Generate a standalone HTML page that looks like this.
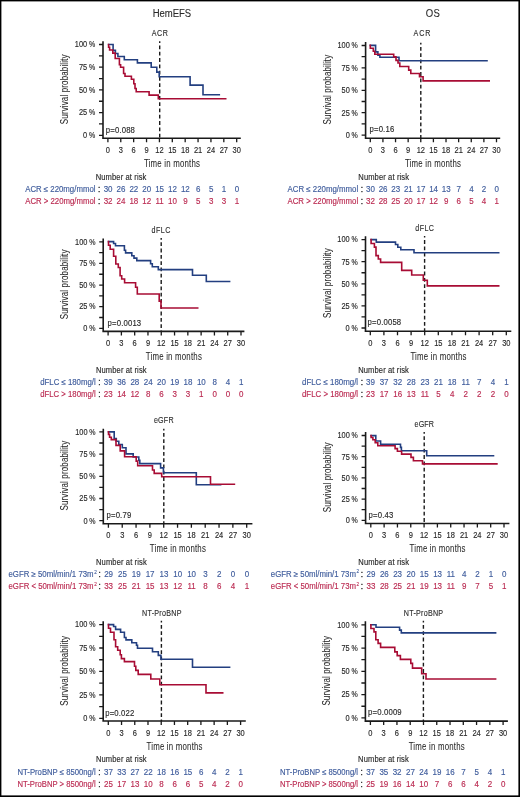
<!DOCTYPE html>
<html><head><meta charset="utf-8"><style>
html,body{margin:0;padding:0;background:#fff;}
body{width:520px;height:797px;overflow:hidden;}
svg{display:block;will-change:transform;}
</style></head><body>
<svg width="520" height="797" viewBox="0 0 520 797" font-family="Liberation Sans, sans-serif" style="font-family:'Liberation Sans',sans-serif">
<rect x="0" y="0" width="520" height="797" fill="#fff"/>
<text transform="translate(159.80,35.60) scale(0.85,1)" x="0" y="0" font-size="8.4" fill="#2a2a2a" stroke="#2a2a2a" stroke-width="0.12" text-anchor="middle" textLength="18.82" lengthAdjust="spacing" >ACR</text>
<path d="M103.00,41.20 V138.95 M102.15,138.20 H240.80" stroke="#1a1a1a" stroke-width="1.6" fill="none"/>
<path d="M99.00,44.50 H103.00 M99.00,55.85 H103.00 M99.00,67.20 H103.00 M99.00,78.55 H103.00 M99.00,89.90 H103.00 M99.00,101.25 H103.00 M99.00,112.60 H103.00 M99.00,123.95 H103.00 M99.00,135.30 H103.00 M107.90,138.20 V142.20 M120.78,138.20 V142.20 M133.66,138.20 V142.20 M146.54,138.20 V142.20 M159.42,138.20 V142.20 M172.30,138.20 V142.20 M185.18,138.20 V142.20 M198.06,138.20 V142.20 M210.94,138.20 V142.20 M223.82,138.20 V142.20 M236.70,138.20 V142.20" stroke="#1a1a1a" stroke-width="1.3" fill="none"/>
<text transform="translate(87.20,47.30) scale(0.88,1)" x="0" y="0" font-size="8.4" fill="#2a2a2a" stroke="#2a2a2a" stroke-width="0.15" text-anchor="end" >100</text>
<text transform="translate(89.00,47.30) scale(0.86,1)" x="0" y="0" font-size="8.2" fill="#2a2a2a" stroke="#2a2a2a" stroke-width="0.16" >%</text>
<text transform="translate(87.20,70.00) scale(0.88,1)" x="0" y="0" font-size="8.4" fill="#2a2a2a" stroke="#2a2a2a" stroke-width="0.15" text-anchor="end" >75</text>
<text transform="translate(89.00,70.00) scale(0.86,1)" x="0" y="0" font-size="8.2" fill="#2a2a2a" stroke="#2a2a2a" stroke-width="0.16" >%</text>
<text transform="translate(87.20,92.70) scale(0.88,1)" x="0" y="0" font-size="8.4" fill="#2a2a2a" stroke="#2a2a2a" stroke-width="0.15" text-anchor="end" >50</text>
<text transform="translate(89.00,92.70) scale(0.86,1)" x="0" y="0" font-size="8.2" fill="#2a2a2a" stroke="#2a2a2a" stroke-width="0.16" >%</text>
<text transform="translate(87.20,115.40) scale(0.88,1)" x="0" y="0" font-size="8.4" fill="#2a2a2a" stroke="#2a2a2a" stroke-width="0.15" text-anchor="end" >25</text>
<text transform="translate(89.00,115.40) scale(0.86,1)" x="0" y="0" font-size="8.2" fill="#2a2a2a" stroke="#2a2a2a" stroke-width="0.16" >%</text>
<text transform="translate(87.20,138.10) scale(0.88,1)" x="0" y="0" font-size="8.4" fill="#2a2a2a" stroke="#2a2a2a" stroke-width="0.15" text-anchor="end" >0</text>
<text transform="translate(89.00,138.10) scale(0.86,1)" x="0" y="0" font-size="8.2" fill="#2a2a2a" stroke="#2a2a2a" stroke-width="0.16" >%</text>
<text transform="translate(107.90,152.70) scale(0.87,1)" x="0" y="0" font-size="8.6" fill="#2a2a2a" stroke="#2a2a2a" stroke-width="0.15" text-anchor="middle" >0</text>
<text transform="translate(120.78,152.70) scale(0.87,1)" x="0" y="0" font-size="8.6" fill="#2a2a2a" stroke="#2a2a2a" stroke-width="0.15" text-anchor="middle" >3</text>
<text transform="translate(133.66,152.70) scale(0.87,1)" x="0" y="0" font-size="8.6" fill="#2a2a2a" stroke="#2a2a2a" stroke-width="0.15" text-anchor="middle" >6</text>
<text transform="translate(146.54,152.70) scale(0.87,1)" x="0" y="0" font-size="8.6" fill="#2a2a2a" stroke="#2a2a2a" stroke-width="0.15" text-anchor="middle" >9</text>
<text transform="translate(159.42,152.70) scale(0.87,1)" x="0" y="0" font-size="8.6" fill="#2a2a2a" stroke="#2a2a2a" stroke-width="0.15" text-anchor="middle" >12</text>
<text transform="translate(172.30,152.70) scale(0.87,1)" x="0" y="0" font-size="8.6" fill="#2a2a2a" stroke="#2a2a2a" stroke-width="0.15" text-anchor="middle" >15</text>
<text transform="translate(185.18,152.70) scale(0.87,1)" x="0" y="0" font-size="8.6" fill="#2a2a2a" stroke="#2a2a2a" stroke-width="0.15" text-anchor="middle" >18</text>
<text transform="translate(198.06,152.70) scale(0.87,1)" x="0" y="0" font-size="8.6" fill="#2a2a2a" stroke="#2a2a2a" stroke-width="0.15" text-anchor="middle" >21</text>
<text transform="translate(210.94,152.70) scale(0.87,1)" x="0" y="0" font-size="8.6" fill="#2a2a2a" stroke="#2a2a2a" stroke-width="0.15" text-anchor="middle" >24</text>
<text transform="translate(223.82,152.70) scale(0.87,1)" x="0" y="0" font-size="8.6" fill="#2a2a2a" stroke="#2a2a2a" stroke-width="0.15" text-anchor="middle" >27</text>
<text transform="translate(236.70,152.70) scale(0.87,1)" x="0" y="0" font-size="8.6" fill="#2a2a2a" stroke="#2a2a2a" stroke-width="0.15" text-anchor="middle" >30</text>
<text transform="translate(171.90,166.80) scale(0.74,1)" x="0" y="0" font-size="10.6" fill="#2a2a2a" stroke="#2a2a2a" stroke-width="0.06" text-anchor="middle" textLength="75.68" lengthAdjust="spacing" >Time in months</text>
<text x="0" y="0" font-size="10.8" fill="#2a2a2a" stroke="#2a2a2a" stroke-width="0.06" text-anchor="middle" textLength="94.19" lengthAdjust="spacing" transform="translate(68.00,89.30) rotate(-90) scale(0.74,1)">Survival probability</text>
<text transform="translate(105.80,132.50) scale(0.88,1)" x="0" y="0" font-size="8.8" fill="#2a2a2a" stroke="#2a2a2a" stroke-width="0.15" textLength="33.11" lengthAdjust="spacing" >p=0.088</text>
<path d="M159.70,41.30 V138.20" stroke="#1a1a1a" stroke-width="1.4" stroke-dasharray="3.8 2.5" stroke-dashoffset="2.1" fill="none"/>
<path d="M108.6,44.5 H113.1 V50.4 H115.4 V53.5 H117.9 V56.5 H124.3 V59.8 H137.4 V62.9 H151.2 V67.3 H156.8 V72.1 H159.2 V76.7 H190.1 V85.1 H203 V94.8 H219.3" stroke="#233f80" stroke-width="1.6" fill="none" stroke-linejoin="miter" stroke-linecap="square"/>
<path d="M108.6,44.5 V47.3 H109.6 V50 H112.8 V53.1 H115.2 V58.5 H119.4 V64.8 H120.6 V67.3 H123.6 V73.5 H125 V76.2 H131.4 V79.2 H133.8 V83.8 H135 V88.5 H136.2 V91.7 H149.1 V95.1 H158.3 V98.8 H225.7" stroke="#a80c34" stroke-width="1.6" fill="none" stroke-linejoin="miter" stroke-linecap="square"/>
<text transform="translate(95.70,179.50) scale(0.88,1)" x="0" y="0" font-size="8.6" fill="#2a2a2a" stroke="#2a2a2a" stroke-width="0.15" textLength="57.61" lengthAdjust="spacing" >Number at risk</text>
<text x="25.20" y="191.70" font-size="8.3" fill="#3f5c9c" stroke="#3f5c9c" stroke-width="0.15" textLength="70.30" lengthAdjust="spacingAndGlyphs" >ACR ≤ 220mg/mmol</text>
<text x="98.10" y="191.70" font-size="8.3" fill="#2a2a2a" stroke="#2a2a2a" stroke-width="0.3" >:</text>
<text x="108.10" y="191.70" font-size="8.4" fill="#3f5c9c" stroke="#3f5c9c" stroke-width="0.15" text-anchor="middle" textLength="8.88" lengthAdjust="spacingAndGlyphs" >30</text>
<text x="120.98" y="191.70" font-size="8.4" fill="#3f5c9c" stroke="#3f5c9c" stroke-width="0.15" text-anchor="middle" textLength="8.88" lengthAdjust="spacingAndGlyphs" >26</text>
<text x="133.86" y="191.70" font-size="8.4" fill="#3f5c9c" stroke="#3f5c9c" stroke-width="0.15" text-anchor="middle" textLength="8.88" lengthAdjust="spacingAndGlyphs" >22</text>
<text x="146.74" y="191.70" font-size="8.4" fill="#3f5c9c" stroke="#3f5c9c" stroke-width="0.15" text-anchor="middle" textLength="8.88" lengthAdjust="spacingAndGlyphs" >20</text>
<text x="159.62" y="191.70" font-size="8.4" fill="#3f5c9c" stroke="#3f5c9c" stroke-width="0.15" text-anchor="middle" textLength="8.88" lengthAdjust="spacingAndGlyphs" >15</text>
<text x="172.50" y="191.70" font-size="8.4" fill="#3f5c9c" stroke="#3f5c9c" stroke-width="0.15" text-anchor="middle" textLength="8.88" lengthAdjust="spacingAndGlyphs" >12</text>
<text x="185.38" y="191.70" font-size="8.4" fill="#3f5c9c" stroke="#3f5c9c" stroke-width="0.15" text-anchor="middle" textLength="8.88" lengthAdjust="spacingAndGlyphs" >12</text>
<text x="198.26" y="191.70" font-size="8.4" fill="#3f5c9c" stroke="#3f5c9c" stroke-width="0.15" text-anchor="middle" textLength="4.44" lengthAdjust="spacingAndGlyphs" >6</text>
<text x="211.14" y="191.70" font-size="8.4" fill="#3f5c9c" stroke="#3f5c9c" stroke-width="0.15" text-anchor="middle" textLength="4.44" lengthAdjust="spacingAndGlyphs" >5</text>
<text x="224.02" y="191.70" font-size="8.4" fill="#3f5c9c" stroke="#3f5c9c" stroke-width="0.15" text-anchor="middle" textLength="4.44" lengthAdjust="spacingAndGlyphs" >1</text>
<text x="236.90" y="191.70" font-size="8.4" fill="#3f5c9c" stroke="#3f5c9c" stroke-width="0.15" text-anchor="middle" textLength="4.44" lengthAdjust="spacingAndGlyphs" >0</text>
<text x="25.20" y="203.90" font-size="8.3" fill="#bb2b52" stroke="#bb2b52" stroke-width="0.15" textLength="70.30" lengthAdjust="spacingAndGlyphs" >ACR &gt; 220mg/mmol</text>
<text x="98.10" y="203.90" font-size="8.3" fill="#2a2a2a" stroke="#2a2a2a" stroke-width="0.3" >:</text>
<text x="108.10" y="203.90" font-size="8.4" fill="#bb2b52" stroke="#bb2b52" stroke-width="0.15" text-anchor="middle" textLength="8.88" lengthAdjust="spacingAndGlyphs" >32</text>
<text x="120.98" y="203.90" font-size="8.4" fill="#bb2b52" stroke="#bb2b52" stroke-width="0.15" text-anchor="middle" textLength="8.88" lengthAdjust="spacingAndGlyphs" >24</text>
<text x="133.86" y="203.90" font-size="8.4" fill="#bb2b52" stroke="#bb2b52" stroke-width="0.15" text-anchor="middle" textLength="8.88" lengthAdjust="spacingAndGlyphs" >18</text>
<text x="146.74" y="203.90" font-size="8.4" fill="#bb2b52" stroke="#bb2b52" stroke-width="0.15" text-anchor="middle" textLength="8.88" lengthAdjust="spacingAndGlyphs" >12</text>
<text x="159.62" y="203.90" font-size="8.4" fill="#bb2b52" stroke="#bb2b52" stroke-width="0.15" text-anchor="middle" textLength="8.28" lengthAdjust="spacingAndGlyphs" >11</text>
<text x="172.50" y="203.90" font-size="8.4" fill="#bb2b52" stroke="#bb2b52" stroke-width="0.15" text-anchor="middle" textLength="8.88" lengthAdjust="spacingAndGlyphs" >10</text>
<text x="185.38" y="203.90" font-size="8.4" fill="#bb2b52" stroke="#bb2b52" stroke-width="0.15" text-anchor="middle" textLength="4.44" lengthAdjust="spacingAndGlyphs" >9</text>
<text x="198.26" y="203.90" font-size="8.4" fill="#bb2b52" stroke="#bb2b52" stroke-width="0.15" text-anchor="middle" textLength="4.44" lengthAdjust="spacingAndGlyphs" >5</text>
<text x="211.14" y="203.90" font-size="8.4" fill="#bb2b52" stroke="#bb2b52" stroke-width="0.15" text-anchor="middle" textLength="4.44" lengthAdjust="spacingAndGlyphs" >3</text>
<text x="224.02" y="203.90" font-size="8.4" fill="#bb2b52" stroke="#bb2b52" stroke-width="0.15" text-anchor="middle" textLength="4.44" lengthAdjust="spacingAndGlyphs" >3</text>
<text x="236.90" y="203.90" font-size="8.4" fill="#bb2b52" stroke="#bb2b52" stroke-width="0.15" text-anchor="middle" textLength="4.44" lengthAdjust="spacingAndGlyphs" >1</text>
<text transform="translate(422.00,36.00) scale(0.85,1)" x="0" y="0" font-size="8.4" fill="#2a2a2a" stroke="#2a2a2a" stroke-width="0.12" text-anchor="middle" textLength="19.76" lengthAdjust="spacing" >ACR</text>
<path d="M365.60,42.10 V138.95 M364.75,138.20 H500.20" stroke="#1a1a1a" stroke-width="1.6" fill="none"/>
<path d="M361.60,45.50 H365.60 M361.60,56.70 H365.60 M361.60,67.90 H365.60 M361.60,79.10 H365.60 M361.60,90.30 H365.60 M361.60,101.50 H365.60 M361.60,112.70 H365.60 M361.60,123.90 H365.60 M361.60,135.10 H365.60 M370.30,138.20 V142.20 M382.92,138.20 V142.20 M395.54,138.20 V142.20 M408.16,138.20 V142.20 M420.78,138.20 V142.20 M433.40,138.20 V142.20 M446.02,138.20 V142.20 M458.64,138.20 V142.20 M471.26,138.20 V142.20 M483.88,138.20 V142.20 M496.50,138.20 V142.20" stroke="#1a1a1a" stroke-width="1.3" fill="none"/>
<text transform="translate(349.80,48.30) scale(0.88,1)" x="0" y="0" font-size="8.4" fill="#2a2a2a" stroke="#2a2a2a" stroke-width="0.15" text-anchor="end" >100</text>
<text transform="translate(351.60,48.30) scale(0.86,1)" x="0" y="0" font-size="8.2" fill="#2a2a2a" stroke="#2a2a2a" stroke-width="0.16" >%</text>
<text transform="translate(349.80,70.70) scale(0.88,1)" x="0" y="0" font-size="8.4" fill="#2a2a2a" stroke="#2a2a2a" stroke-width="0.15" text-anchor="end" >75</text>
<text transform="translate(351.60,70.70) scale(0.86,1)" x="0" y="0" font-size="8.2" fill="#2a2a2a" stroke="#2a2a2a" stroke-width="0.16" >%</text>
<text transform="translate(349.80,93.10) scale(0.88,1)" x="0" y="0" font-size="8.4" fill="#2a2a2a" stroke="#2a2a2a" stroke-width="0.15" text-anchor="end" >50</text>
<text transform="translate(351.60,93.10) scale(0.86,1)" x="0" y="0" font-size="8.2" fill="#2a2a2a" stroke="#2a2a2a" stroke-width="0.16" >%</text>
<text transform="translate(349.80,115.50) scale(0.88,1)" x="0" y="0" font-size="8.4" fill="#2a2a2a" stroke="#2a2a2a" stroke-width="0.15" text-anchor="end" >25</text>
<text transform="translate(351.60,115.50) scale(0.86,1)" x="0" y="0" font-size="8.2" fill="#2a2a2a" stroke="#2a2a2a" stroke-width="0.16" >%</text>
<text transform="translate(349.80,137.90) scale(0.88,1)" x="0" y="0" font-size="8.4" fill="#2a2a2a" stroke="#2a2a2a" stroke-width="0.15" text-anchor="end" >0</text>
<text transform="translate(351.60,137.90) scale(0.86,1)" x="0" y="0" font-size="8.2" fill="#2a2a2a" stroke="#2a2a2a" stroke-width="0.16" >%</text>
<text transform="translate(370.30,152.70) scale(0.87,1)" x="0" y="0" font-size="8.6" fill="#2a2a2a" stroke="#2a2a2a" stroke-width="0.15" text-anchor="middle" >0</text>
<text transform="translate(382.92,152.70) scale(0.87,1)" x="0" y="0" font-size="8.6" fill="#2a2a2a" stroke="#2a2a2a" stroke-width="0.15" text-anchor="middle" >3</text>
<text transform="translate(395.54,152.70) scale(0.87,1)" x="0" y="0" font-size="8.6" fill="#2a2a2a" stroke="#2a2a2a" stroke-width="0.15" text-anchor="middle" >6</text>
<text transform="translate(408.16,152.70) scale(0.87,1)" x="0" y="0" font-size="8.6" fill="#2a2a2a" stroke="#2a2a2a" stroke-width="0.15" text-anchor="middle" >9</text>
<text transform="translate(420.78,152.70) scale(0.87,1)" x="0" y="0" font-size="8.6" fill="#2a2a2a" stroke="#2a2a2a" stroke-width="0.15" text-anchor="middle" >12</text>
<text transform="translate(433.40,152.70) scale(0.87,1)" x="0" y="0" font-size="8.6" fill="#2a2a2a" stroke="#2a2a2a" stroke-width="0.15" text-anchor="middle" >15</text>
<text transform="translate(446.02,152.70) scale(0.87,1)" x="0" y="0" font-size="8.6" fill="#2a2a2a" stroke="#2a2a2a" stroke-width="0.15" text-anchor="middle" >18</text>
<text transform="translate(458.64,152.70) scale(0.87,1)" x="0" y="0" font-size="8.6" fill="#2a2a2a" stroke="#2a2a2a" stroke-width="0.15" text-anchor="middle" >21</text>
<text transform="translate(471.26,152.70) scale(0.87,1)" x="0" y="0" font-size="8.6" fill="#2a2a2a" stroke="#2a2a2a" stroke-width="0.15" text-anchor="middle" >24</text>
<text transform="translate(483.88,152.70) scale(0.87,1)" x="0" y="0" font-size="8.6" fill="#2a2a2a" stroke="#2a2a2a" stroke-width="0.15" text-anchor="middle" >27</text>
<text transform="translate(496.50,152.70) scale(0.87,1)" x="0" y="0" font-size="8.6" fill="#2a2a2a" stroke="#2a2a2a" stroke-width="0.15" text-anchor="middle" >30</text>
<text transform="translate(432.90,166.80) scale(0.74,1)" x="0" y="0" font-size="10.6" fill="#2a2a2a" stroke="#2a2a2a" stroke-width="0.06" text-anchor="middle" textLength="75.68" lengthAdjust="spacing" >Time in months</text>
<text x="0" y="0" font-size="10.8" fill="#2a2a2a" stroke="#2a2a2a" stroke-width="0.06" text-anchor="middle" textLength="94.19" lengthAdjust="spacing" transform="translate(330.60,89.70) rotate(-90) scale(0.74,1)">Survival probability</text>
<text transform="translate(369.50,132.30) scale(0.88,1)" x="0" y="0" font-size="8.8" fill="#2a2a2a" stroke="#2a2a2a" stroke-width="0.15" textLength="28.06" lengthAdjust="spacing" >p=0.16</text>
<path d="M420.80,42.70 V138.20" stroke="#1a1a1a" stroke-width="1.4" stroke-dasharray="3.8 2.5" stroke-dashoffset="2.1" fill="none"/>
<path d="M370.3,45.4 H375.6 V51.9 H377.9 V55.2 H379.9 V57.3 H399 V60.8 H487" stroke="#233f80" stroke-width="1.6" fill="none" stroke-linejoin="miter" stroke-linecap="square"/>
<path d="M370.3,45.4 V48.3 H373.3 V51.2 H374.8 V54.2 H393.7 V56.9 H396 V60.4 H398 V63 H399.8 V66.5 H408.7 V70.1 H410.8 V73.5 H419.5 V76.8 H423.1 V80.9 H489.2" stroke="#a80c34" stroke-width="1.6" fill="none" stroke-linejoin="miter" stroke-linecap="square"/>
<text transform="translate(358.30,179.50) scale(0.88,1)" x="0" y="0" font-size="8.6" fill="#2a2a2a" stroke="#2a2a2a" stroke-width="0.15" textLength="57.61" lengthAdjust="spacing" >Number at risk</text>
<text x="287.50" y="191.70" font-size="8.3" fill="#3f5c9c" stroke="#3f5c9c" stroke-width="0.15" textLength="70.70" lengthAdjust="spacingAndGlyphs" >ACR ≤ 220mg/mmol</text>
<text x="360.80" y="191.70" font-size="8.3" fill="#2a2a2a" stroke="#2a2a2a" stroke-width="0.3" >:</text>
<text x="370.50" y="191.70" font-size="8.4" fill="#3f5c9c" stroke="#3f5c9c" stroke-width="0.15" text-anchor="middle" textLength="8.88" lengthAdjust="spacingAndGlyphs" >30</text>
<text x="383.12" y="191.70" font-size="8.4" fill="#3f5c9c" stroke="#3f5c9c" stroke-width="0.15" text-anchor="middle" textLength="8.88" lengthAdjust="spacingAndGlyphs" >26</text>
<text x="395.74" y="191.70" font-size="8.4" fill="#3f5c9c" stroke="#3f5c9c" stroke-width="0.15" text-anchor="middle" textLength="8.88" lengthAdjust="spacingAndGlyphs" >23</text>
<text x="408.36" y="191.70" font-size="8.4" fill="#3f5c9c" stroke="#3f5c9c" stroke-width="0.15" text-anchor="middle" textLength="8.88" lengthAdjust="spacingAndGlyphs" >21</text>
<text x="420.98" y="191.70" font-size="8.4" fill="#3f5c9c" stroke="#3f5c9c" stroke-width="0.15" text-anchor="middle" textLength="8.88" lengthAdjust="spacingAndGlyphs" >17</text>
<text x="433.60" y="191.70" font-size="8.4" fill="#3f5c9c" stroke="#3f5c9c" stroke-width="0.15" text-anchor="middle" textLength="8.88" lengthAdjust="spacingAndGlyphs" >14</text>
<text x="446.22" y="191.70" font-size="8.4" fill="#3f5c9c" stroke="#3f5c9c" stroke-width="0.15" text-anchor="middle" textLength="8.88" lengthAdjust="spacingAndGlyphs" >13</text>
<text x="458.84" y="191.70" font-size="8.4" fill="#3f5c9c" stroke="#3f5c9c" stroke-width="0.15" text-anchor="middle" textLength="4.44" lengthAdjust="spacingAndGlyphs" >7</text>
<text x="471.46" y="191.70" font-size="8.4" fill="#3f5c9c" stroke="#3f5c9c" stroke-width="0.15" text-anchor="middle" textLength="4.44" lengthAdjust="spacingAndGlyphs" >4</text>
<text x="484.08" y="191.70" font-size="8.4" fill="#3f5c9c" stroke="#3f5c9c" stroke-width="0.15" text-anchor="middle" textLength="4.44" lengthAdjust="spacingAndGlyphs" >2</text>
<text x="496.70" y="191.70" font-size="8.4" fill="#3f5c9c" stroke="#3f5c9c" stroke-width="0.15" text-anchor="middle" textLength="4.44" lengthAdjust="spacingAndGlyphs" >0</text>
<text x="287.50" y="203.90" font-size="8.3" fill="#bb2b52" stroke="#bb2b52" stroke-width="0.15" textLength="70.70" lengthAdjust="spacingAndGlyphs" >ACR &gt; 220mg/mmol</text>
<text x="360.80" y="203.90" font-size="8.3" fill="#2a2a2a" stroke="#2a2a2a" stroke-width="0.3" >:</text>
<text x="370.50" y="203.90" font-size="8.4" fill="#bb2b52" stroke="#bb2b52" stroke-width="0.15" text-anchor="middle" textLength="8.88" lengthAdjust="spacingAndGlyphs" >32</text>
<text x="383.12" y="203.90" font-size="8.4" fill="#bb2b52" stroke="#bb2b52" stroke-width="0.15" text-anchor="middle" textLength="8.88" lengthAdjust="spacingAndGlyphs" >28</text>
<text x="395.74" y="203.90" font-size="8.4" fill="#bb2b52" stroke="#bb2b52" stroke-width="0.15" text-anchor="middle" textLength="8.88" lengthAdjust="spacingAndGlyphs" >25</text>
<text x="408.36" y="203.90" font-size="8.4" fill="#bb2b52" stroke="#bb2b52" stroke-width="0.15" text-anchor="middle" textLength="8.88" lengthAdjust="spacingAndGlyphs" >20</text>
<text x="420.98" y="203.90" font-size="8.4" fill="#bb2b52" stroke="#bb2b52" stroke-width="0.15" text-anchor="middle" textLength="8.88" lengthAdjust="spacingAndGlyphs" >17</text>
<text x="433.60" y="203.90" font-size="8.4" fill="#bb2b52" stroke="#bb2b52" stroke-width="0.15" text-anchor="middle" textLength="8.88" lengthAdjust="spacingAndGlyphs" >12</text>
<text x="446.22" y="203.90" font-size="8.4" fill="#bb2b52" stroke="#bb2b52" stroke-width="0.15" text-anchor="middle" textLength="4.44" lengthAdjust="spacingAndGlyphs" >9</text>
<text x="458.84" y="203.90" font-size="8.4" fill="#bb2b52" stroke="#bb2b52" stroke-width="0.15" text-anchor="middle" textLength="4.44" lengthAdjust="spacingAndGlyphs" >6</text>
<text x="471.46" y="203.90" font-size="8.4" fill="#bb2b52" stroke="#bb2b52" stroke-width="0.15" text-anchor="middle" textLength="4.44" lengthAdjust="spacingAndGlyphs" >5</text>
<text x="484.08" y="203.90" font-size="8.4" fill="#bb2b52" stroke="#bb2b52" stroke-width="0.15" text-anchor="middle" textLength="4.44" lengthAdjust="spacingAndGlyphs" >4</text>
<text x="496.70" y="203.90" font-size="8.4" fill="#bb2b52" stroke="#bb2b52" stroke-width="0.15" text-anchor="middle" textLength="4.44" lengthAdjust="spacingAndGlyphs" >1</text>
<text transform="translate(161.00,232.80) scale(0.85,1)" x="0" y="0" font-size="8.4" fill="#2a2a2a" stroke="#2a2a2a" stroke-width="0.12" text-anchor="middle" textLength="22.24" lengthAdjust="spacing" >dFLC</text>
<path d="M103.20,238.50 V332.15 M102.35,331.40 H244.40" stroke="#1a1a1a" stroke-width="1.6" fill="none"/>
<path d="M99.20,241.80 H103.20 M99.20,252.61 H103.20 M99.20,263.43 H103.20 M99.20,274.24 H103.20 M99.20,285.05 H103.20 M99.20,295.86 H103.20 M99.20,306.68 H103.20 M99.20,317.49 H103.20 M99.20,328.30 H103.20 M108.10,331.40 V335.40 M121.39,331.40 V335.40 M134.68,331.40 V335.40 M147.97,331.40 V335.40 M161.26,331.40 V335.40 M174.55,331.40 V335.40 M187.84,331.40 V335.40 M201.13,331.40 V335.40 M214.42,331.40 V335.40 M227.71,331.40 V335.40 M241.00,331.40 V335.40" stroke="#1a1a1a" stroke-width="1.3" fill="none"/>
<text transform="translate(87.40,244.60) scale(0.88,1)" x="0" y="0" font-size="8.4" fill="#2a2a2a" stroke="#2a2a2a" stroke-width="0.15" text-anchor="end" >100</text>
<text transform="translate(89.20,244.60) scale(0.86,1)" x="0" y="0" font-size="8.2" fill="#2a2a2a" stroke="#2a2a2a" stroke-width="0.16" >%</text>
<text transform="translate(87.40,266.23) scale(0.88,1)" x="0" y="0" font-size="8.4" fill="#2a2a2a" stroke="#2a2a2a" stroke-width="0.15" text-anchor="end" >75</text>
<text transform="translate(89.20,266.23) scale(0.86,1)" x="0" y="0" font-size="8.2" fill="#2a2a2a" stroke="#2a2a2a" stroke-width="0.16" >%</text>
<text transform="translate(87.40,287.85) scale(0.88,1)" x="0" y="0" font-size="8.4" fill="#2a2a2a" stroke="#2a2a2a" stroke-width="0.15" text-anchor="end" >50</text>
<text transform="translate(89.20,287.85) scale(0.86,1)" x="0" y="0" font-size="8.2" fill="#2a2a2a" stroke="#2a2a2a" stroke-width="0.16" >%</text>
<text transform="translate(87.40,309.48) scale(0.88,1)" x="0" y="0" font-size="8.4" fill="#2a2a2a" stroke="#2a2a2a" stroke-width="0.15" text-anchor="end" >25</text>
<text transform="translate(89.20,309.48) scale(0.86,1)" x="0" y="0" font-size="8.2" fill="#2a2a2a" stroke="#2a2a2a" stroke-width="0.16" >%</text>
<text transform="translate(87.40,331.10) scale(0.88,1)" x="0" y="0" font-size="8.4" fill="#2a2a2a" stroke="#2a2a2a" stroke-width="0.15" text-anchor="end" >0</text>
<text transform="translate(89.20,331.10) scale(0.86,1)" x="0" y="0" font-size="8.2" fill="#2a2a2a" stroke="#2a2a2a" stroke-width="0.16" >%</text>
<text transform="translate(108.10,345.90) scale(0.87,1)" x="0" y="0" font-size="8.6" fill="#2a2a2a" stroke="#2a2a2a" stroke-width="0.15" text-anchor="middle" >0</text>
<text transform="translate(121.39,345.90) scale(0.87,1)" x="0" y="0" font-size="8.6" fill="#2a2a2a" stroke="#2a2a2a" stroke-width="0.15" text-anchor="middle" >3</text>
<text transform="translate(134.68,345.90) scale(0.87,1)" x="0" y="0" font-size="8.6" fill="#2a2a2a" stroke="#2a2a2a" stroke-width="0.15" text-anchor="middle" >6</text>
<text transform="translate(147.97,345.90) scale(0.87,1)" x="0" y="0" font-size="8.6" fill="#2a2a2a" stroke="#2a2a2a" stroke-width="0.15" text-anchor="middle" >9</text>
<text transform="translate(161.26,345.90) scale(0.87,1)" x="0" y="0" font-size="8.6" fill="#2a2a2a" stroke="#2a2a2a" stroke-width="0.15" text-anchor="middle" >12</text>
<text transform="translate(174.55,345.90) scale(0.87,1)" x="0" y="0" font-size="8.6" fill="#2a2a2a" stroke="#2a2a2a" stroke-width="0.15" text-anchor="middle" >15</text>
<text transform="translate(187.84,345.90) scale(0.87,1)" x="0" y="0" font-size="8.6" fill="#2a2a2a" stroke="#2a2a2a" stroke-width="0.15" text-anchor="middle" >18</text>
<text transform="translate(201.13,345.90) scale(0.87,1)" x="0" y="0" font-size="8.6" fill="#2a2a2a" stroke="#2a2a2a" stroke-width="0.15" text-anchor="middle" >21</text>
<text transform="translate(214.42,345.90) scale(0.87,1)" x="0" y="0" font-size="8.6" fill="#2a2a2a" stroke="#2a2a2a" stroke-width="0.15" text-anchor="middle" >24</text>
<text transform="translate(227.71,345.90) scale(0.87,1)" x="0" y="0" font-size="8.6" fill="#2a2a2a" stroke="#2a2a2a" stroke-width="0.15" text-anchor="middle" >27</text>
<text transform="translate(241.00,345.90) scale(0.87,1)" x="0" y="0" font-size="8.6" fill="#2a2a2a" stroke="#2a2a2a" stroke-width="0.15" text-anchor="middle" >30</text>
<text transform="translate(173.80,360.00) scale(0.74,1)" x="0" y="0" font-size="10.6" fill="#2a2a2a" stroke="#2a2a2a" stroke-width="0.06" text-anchor="middle" textLength="75.68" lengthAdjust="spacing" >Time in months</text>
<text x="0" y="0" font-size="10.8" fill="#2a2a2a" stroke="#2a2a2a" stroke-width="0.06" text-anchor="middle" textLength="94.19" lengthAdjust="spacing" transform="translate(68.20,284.45) rotate(-90) scale(0.74,1)">Survival probability</text>
<text transform="translate(107.60,325.50) scale(0.88,1)" x="0" y="0" font-size="8.8" fill="#2a2a2a" stroke="#2a2a2a" stroke-width="0.15" textLength="38.17" lengthAdjust="spacing" >p=0.0013</text>
<path d="M161.20,238.10 V331.40" stroke="#1a1a1a" stroke-width="1.4" stroke-dasharray="3.8 2.5" stroke-dashoffset="2.1" fill="none"/>
<path d="M108.5,241.6 H113.6 V243.5 H115.5 V245.7 H124.4 V250.2 H125.6 V252.9 H131.8 V255.8 H134 V258.1 H136.8 V260.6 H150.6 V263.7 H152.3 V266.8 H158.3 V269.6 H192.5 V275.2 H206.3 V281.5 H229.6" stroke="#233f80" stroke-width="1.6" fill="none" stroke-linejoin="miter" stroke-linecap="square"/>
<path d="M108.5,241.6 V245.2 H110.2 V249.2 H113.6 V256.2 H115.8 V264 H118.3 V267.5 H120.1 V275.8 H121.7 V279 H124.6 V282.7 H135.6 V287.3 H137.3 V294 H159.2 V301.1 H161 V308 H197.7" stroke="#a80c34" stroke-width="1.6" fill="none" stroke-linejoin="miter" stroke-linecap="square"/>
<text transform="translate(95.90,372.70) scale(0.88,1)" x="0" y="0" font-size="8.6" fill="#2a2a2a" stroke="#2a2a2a" stroke-width="0.15" textLength="57.61" lengthAdjust="spacing" >Number at risk</text>
<text x="40.20" y="384.90" font-size="8.3" fill="#3f5c9c" stroke="#3f5c9c" stroke-width="0.15" textLength="55.50" lengthAdjust="spacingAndGlyphs" >dFLC ≤ 180mg/l</text>
<text x="98.30" y="384.90" font-size="8.3" fill="#2a2a2a" stroke="#2a2a2a" stroke-width="0.3" >:</text>
<text x="108.30" y="384.90" font-size="8.4" fill="#3f5c9c" stroke="#3f5c9c" stroke-width="0.15" text-anchor="middle" textLength="8.88" lengthAdjust="spacingAndGlyphs" >39</text>
<text x="121.59" y="384.90" font-size="8.4" fill="#3f5c9c" stroke="#3f5c9c" stroke-width="0.15" text-anchor="middle" textLength="8.88" lengthAdjust="spacingAndGlyphs" >36</text>
<text x="134.88" y="384.90" font-size="8.4" fill="#3f5c9c" stroke="#3f5c9c" stroke-width="0.15" text-anchor="middle" textLength="8.88" lengthAdjust="spacingAndGlyphs" >28</text>
<text x="148.17" y="384.90" font-size="8.4" fill="#3f5c9c" stroke="#3f5c9c" stroke-width="0.15" text-anchor="middle" textLength="8.88" lengthAdjust="spacingAndGlyphs" >24</text>
<text x="161.46" y="384.90" font-size="8.4" fill="#3f5c9c" stroke="#3f5c9c" stroke-width="0.15" text-anchor="middle" textLength="8.88" lengthAdjust="spacingAndGlyphs" >20</text>
<text x="174.75" y="384.90" font-size="8.4" fill="#3f5c9c" stroke="#3f5c9c" stroke-width="0.15" text-anchor="middle" textLength="8.88" lengthAdjust="spacingAndGlyphs" >19</text>
<text x="188.04" y="384.90" font-size="8.4" fill="#3f5c9c" stroke="#3f5c9c" stroke-width="0.15" text-anchor="middle" textLength="8.88" lengthAdjust="spacingAndGlyphs" >18</text>
<text x="201.33" y="384.90" font-size="8.4" fill="#3f5c9c" stroke="#3f5c9c" stroke-width="0.15" text-anchor="middle" textLength="8.88" lengthAdjust="spacingAndGlyphs" >10</text>
<text x="214.62" y="384.90" font-size="8.4" fill="#3f5c9c" stroke="#3f5c9c" stroke-width="0.15" text-anchor="middle" textLength="4.44" lengthAdjust="spacingAndGlyphs" >8</text>
<text x="227.91" y="384.90" font-size="8.4" fill="#3f5c9c" stroke="#3f5c9c" stroke-width="0.15" text-anchor="middle" textLength="4.44" lengthAdjust="spacingAndGlyphs" >4</text>
<text x="241.20" y="384.90" font-size="8.4" fill="#3f5c9c" stroke="#3f5c9c" stroke-width="0.15" text-anchor="middle" textLength="4.44" lengthAdjust="spacingAndGlyphs" >1</text>
<text x="40.20" y="397.10" font-size="8.3" fill="#bb2b52" stroke="#bb2b52" stroke-width="0.15" textLength="55.50" lengthAdjust="spacingAndGlyphs" >dFLC &gt; 180mg/l</text>
<text x="98.30" y="397.10" font-size="8.3" fill="#2a2a2a" stroke="#2a2a2a" stroke-width="0.3" >:</text>
<text x="108.30" y="397.10" font-size="8.4" fill="#bb2b52" stroke="#bb2b52" stroke-width="0.15" text-anchor="middle" textLength="8.88" lengthAdjust="spacingAndGlyphs" >23</text>
<text x="121.59" y="397.10" font-size="8.4" fill="#bb2b52" stroke="#bb2b52" stroke-width="0.15" text-anchor="middle" textLength="8.88" lengthAdjust="spacingAndGlyphs" >14</text>
<text x="134.88" y="397.10" font-size="8.4" fill="#bb2b52" stroke="#bb2b52" stroke-width="0.15" text-anchor="middle" textLength="8.88" lengthAdjust="spacingAndGlyphs" >12</text>
<text x="148.17" y="397.10" font-size="8.4" fill="#bb2b52" stroke="#bb2b52" stroke-width="0.15" text-anchor="middle" textLength="4.44" lengthAdjust="spacingAndGlyphs" >8</text>
<text x="161.46" y="397.10" font-size="8.4" fill="#bb2b52" stroke="#bb2b52" stroke-width="0.15" text-anchor="middle" textLength="4.44" lengthAdjust="spacingAndGlyphs" >6</text>
<text x="174.75" y="397.10" font-size="8.4" fill="#bb2b52" stroke="#bb2b52" stroke-width="0.15" text-anchor="middle" textLength="4.44" lengthAdjust="spacingAndGlyphs" >3</text>
<text x="188.04" y="397.10" font-size="8.4" fill="#bb2b52" stroke="#bb2b52" stroke-width="0.15" text-anchor="middle" textLength="4.44" lengthAdjust="spacingAndGlyphs" >3</text>
<text x="201.33" y="397.10" font-size="8.4" fill="#bb2b52" stroke="#bb2b52" stroke-width="0.15" text-anchor="middle" textLength="4.44" lengthAdjust="spacingAndGlyphs" >1</text>
<text x="214.62" y="397.10" font-size="8.4" fill="#bb2b52" stroke="#bb2b52" stroke-width="0.15" text-anchor="middle" textLength="4.44" lengthAdjust="spacingAndGlyphs" >0</text>
<text x="227.91" y="397.10" font-size="8.4" fill="#bb2b52" stroke="#bb2b52" stroke-width="0.15" text-anchor="middle" textLength="4.44" lengthAdjust="spacingAndGlyphs" >0</text>
<text x="241.20" y="397.10" font-size="8.4" fill="#bb2b52" stroke="#bb2b52" stroke-width="0.15" text-anchor="middle" textLength="4.44" lengthAdjust="spacingAndGlyphs" >0</text>
<text transform="translate(424.65,230.90) scale(0.85,1)" x="0" y="0" font-size="8.4" fill="#2a2a2a" stroke="#2a2a2a" stroke-width="0.12" text-anchor="middle" textLength="22.00" lengthAdjust="spacing" >dFLC</text>
<path d="M365.50,236.30 V331.95 M364.65,331.20 H511.30" stroke="#1a1a1a" stroke-width="1.6" fill="none"/>
<path d="M361.50,239.60 H365.50 M361.50,250.65 H365.50 M361.50,261.70 H365.50 M361.50,272.75 H365.50 M361.50,283.80 H365.50 M361.50,294.85 H365.50 M361.50,305.90 H365.50 M361.50,316.95 H365.50 M361.50,328.00 H365.50 M370.30,331.20 V335.20 M383.90,331.20 V335.20 M397.50,331.20 V335.20 M411.10,331.20 V335.20 M424.70,331.20 V335.20 M438.30,331.20 V335.20 M451.90,331.20 V335.20 M465.50,331.20 V335.20 M479.10,331.20 V335.20 M492.70,331.20 V335.20 M506.30,331.20 V335.20" stroke="#1a1a1a" stroke-width="1.3" fill="none"/>
<text transform="translate(349.70,242.40) scale(0.88,1)" x="0" y="0" font-size="8.4" fill="#2a2a2a" stroke="#2a2a2a" stroke-width="0.15" text-anchor="end" >100</text>
<text transform="translate(351.50,242.40) scale(0.86,1)" x="0" y="0" font-size="8.2" fill="#2a2a2a" stroke="#2a2a2a" stroke-width="0.16" >%</text>
<text transform="translate(349.70,264.50) scale(0.88,1)" x="0" y="0" font-size="8.4" fill="#2a2a2a" stroke="#2a2a2a" stroke-width="0.15" text-anchor="end" >75</text>
<text transform="translate(351.50,264.50) scale(0.86,1)" x="0" y="0" font-size="8.2" fill="#2a2a2a" stroke="#2a2a2a" stroke-width="0.16" >%</text>
<text transform="translate(349.70,286.60) scale(0.88,1)" x="0" y="0" font-size="8.4" fill="#2a2a2a" stroke="#2a2a2a" stroke-width="0.15" text-anchor="end" >50</text>
<text transform="translate(351.50,286.60) scale(0.86,1)" x="0" y="0" font-size="8.2" fill="#2a2a2a" stroke="#2a2a2a" stroke-width="0.16" >%</text>
<text transform="translate(349.70,308.70) scale(0.88,1)" x="0" y="0" font-size="8.4" fill="#2a2a2a" stroke="#2a2a2a" stroke-width="0.15" text-anchor="end" >25</text>
<text transform="translate(351.50,308.70) scale(0.86,1)" x="0" y="0" font-size="8.2" fill="#2a2a2a" stroke="#2a2a2a" stroke-width="0.16" >%</text>
<text transform="translate(349.70,330.80) scale(0.88,1)" x="0" y="0" font-size="8.4" fill="#2a2a2a" stroke="#2a2a2a" stroke-width="0.15" text-anchor="end" >0</text>
<text transform="translate(351.50,330.80) scale(0.86,1)" x="0" y="0" font-size="8.2" fill="#2a2a2a" stroke="#2a2a2a" stroke-width="0.16" >%</text>
<text transform="translate(370.30,345.70) scale(0.87,1)" x="0" y="0" font-size="8.6" fill="#2a2a2a" stroke="#2a2a2a" stroke-width="0.15" text-anchor="middle" >0</text>
<text transform="translate(383.90,345.70) scale(0.87,1)" x="0" y="0" font-size="8.6" fill="#2a2a2a" stroke="#2a2a2a" stroke-width="0.15" text-anchor="middle" >3</text>
<text transform="translate(397.50,345.70) scale(0.87,1)" x="0" y="0" font-size="8.6" fill="#2a2a2a" stroke="#2a2a2a" stroke-width="0.15" text-anchor="middle" >6</text>
<text transform="translate(411.10,345.70) scale(0.87,1)" x="0" y="0" font-size="8.6" fill="#2a2a2a" stroke="#2a2a2a" stroke-width="0.15" text-anchor="middle" >9</text>
<text transform="translate(424.70,345.70) scale(0.87,1)" x="0" y="0" font-size="8.6" fill="#2a2a2a" stroke="#2a2a2a" stroke-width="0.15" text-anchor="middle" >12</text>
<text transform="translate(438.30,345.70) scale(0.87,1)" x="0" y="0" font-size="8.6" fill="#2a2a2a" stroke="#2a2a2a" stroke-width="0.15" text-anchor="middle" >15</text>
<text transform="translate(451.90,345.70) scale(0.87,1)" x="0" y="0" font-size="8.6" fill="#2a2a2a" stroke="#2a2a2a" stroke-width="0.15" text-anchor="middle" >18</text>
<text transform="translate(465.50,345.70) scale(0.87,1)" x="0" y="0" font-size="8.6" fill="#2a2a2a" stroke="#2a2a2a" stroke-width="0.15" text-anchor="middle" >21</text>
<text transform="translate(479.10,345.70) scale(0.87,1)" x="0" y="0" font-size="8.6" fill="#2a2a2a" stroke="#2a2a2a" stroke-width="0.15" text-anchor="middle" >24</text>
<text transform="translate(492.70,345.70) scale(0.87,1)" x="0" y="0" font-size="8.6" fill="#2a2a2a" stroke="#2a2a2a" stroke-width="0.15" text-anchor="middle" >27</text>
<text transform="translate(506.30,345.70) scale(0.87,1)" x="0" y="0" font-size="8.6" fill="#2a2a2a" stroke="#2a2a2a" stroke-width="0.15" text-anchor="middle" >30</text>
<text transform="translate(438.40,359.80) scale(0.74,1)" x="0" y="0" font-size="10.6" fill="#2a2a2a" stroke="#2a2a2a" stroke-width="0.06" text-anchor="middle" textLength="75.68" lengthAdjust="spacing" >Time in months</text>
<text x="0" y="0" font-size="10.8" fill="#2a2a2a" stroke="#2a2a2a" stroke-width="0.06" text-anchor="middle" textLength="94.19" lengthAdjust="spacing" transform="translate(330.50,283.20) rotate(-90) scale(0.74,1)">Survival probability</text>
<text transform="translate(367.60,325.20) scale(0.88,1)" x="0" y="0" font-size="8.8" fill="#2a2a2a" stroke="#2a2a2a" stroke-width="0.15" textLength="38.17" lengthAdjust="spacing" >p=0.0058</text>
<path d="M424.60,235.90 V331.20" stroke="#1a1a1a" stroke-width="1.4" stroke-dasharray="3.8 2.5" stroke-dashoffset="2.1" fill="none"/>
<path d="M371.1,239.6 H376.3 V242.1 H395.5 V244.5 H397.8 V247.2 H400.8 V249.8 H414 V252.7 H498.7" stroke="#233f80" stroke-width="1.6" fill="none" stroke-linejoin="miter" stroke-linecap="square"/>
<path d="M371.1,239.6 V243.5 H374.4 V247.1 H376 V255.6 H378.3 V259 H380.6 V262.4 H401.7 V270.4 H411.7 V275 H423.3 V280.2 H427.3 V285.9 H498.7" stroke="#a80c34" stroke-width="1.6" fill="none" stroke-linejoin="miter" stroke-linecap="square"/>
<text transform="translate(358.20,372.50) scale(0.88,1)" x="0" y="0" font-size="8.6" fill="#2a2a2a" stroke="#2a2a2a" stroke-width="0.15" textLength="57.61" lengthAdjust="spacing" >Number at risk</text>
<text x="302.00" y="384.70" font-size="8.3" fill="#3f5c9c" stroke="#3f5c9c" stroke-width="0.15" textLength="56.10" lengthAdjust="spacingAndGlyphs" >dFLC ≤ 180mg/l</text>
<text x="360.70" y="384.70" font-size="8.3" fill="#2a2a2a" stroke="#2a2a2a" stroke-width="0.3" >:</text>
<text x="370.50" y="384.70" font-size="8.4" fill="#3f5c9c" stroke="#3f5c9c" stroke-width="0.15" text-anchor="middle" textLength="8.88" lengthAdjust="spacingAndGlyphs" >39</text>
<text x="384.10" y="384.70" font-size="8.4" fill="#3f5c9c" stroke="#3f5c9c" stroke-width="0.15" text-anchor="middle" textLength="8.88" lengthAdjust="spacingAndGlyphs" >37</text>
<text x="397.70" y="384.70" font-size="8.4" fill="#3f5c9c" stroke="#3f5c9c" stroke-width="0.15" text-anchor="middle" textLength="8.88" lengthAdjust="spacingAndGlyphs" >32</text>
<text x="411.30" y="384.70" font-size="8.4" fill="#3f5c9c" stroke="#3f5c9c" stroke-width="0.15" text-anchor="middle" textLength="8.88" lengthAdjust="spacingAndGlyphs" >28</text>
<text x="424.90" y="384.70" font-size="8.4" fill="#3f5c9c" stroke="#3f5c9c" stroke-width="0.15" text-anchor="middle" textLength="8.88" lengthAdjust="spacingAndGlyphs" >23</text>
<text x="438.50" y="384.70" font-size="8.4" fill="#3f5c9c" stroke="#3f5c9c" stroke-width="0.15" text-anchor="middle" textLength="8.88" lengthAdjust="spacingAndGlyphs" >21</text>
<text x="452.10" y="384.70" font-size="8.4" fill="#3f5c9c" stroke="#3f5c9c" stroke-width="0.15" text-anchor="middle" textLength="8.88" lengthAdjust="spacingAndGlyphs" >18</text>
<text x="465.70" y="384.70" font-size="8.4" fill="#3f5c9c" stroke="#3f5c9c" stroke-width="0.15" text-anchor="middle" textLength="8.28" lengthAdjust="spacingAndGlyphs" >11</text>
<text x="479.30" y="384.70" font-size="8.4" fill="#3f5c9c" stroke="#3f5c9c" stroke-width="0.15" text-anchor="middle" textLength="4.44" lengthAdjust="spacingAndGlyphs" >7</text>
<text x="492.90" y="384.70" font-size="8.4" fill="#3f5c9c" stroke="#3f5c9c" stroke-width="0.15" text-anchor="middle" textLength="4.44" lengthAdjust="spacingAndGlyphs" >4</text>
<text x="506.50" y="384.70" font-size="8.4" fill="#3f5c9c" stroke="#3f5c9c" stroke-width="0.15" text-anchor="middle" textLength="4.44" lengthAdjust="spacingAndGlyphs" >1</text>
<text x="302.00" y="396.90" font-size="8.3" fill="#bb2b52" stroke="#bb2b52" stroke-width="0.15" textLength="56.10" lengthAdjust="spacingAndGlyphs" >dFLC &gt; 180mg/l</text>
<text x="360.70" y="396.90" font-size="8.3" fill="#2a2a2a" stroke="#2a2a2a" stroke-width="0.3" >:</text>
<text x="370.50" y="396.90" font-size="8.4" fill="#bb2b52" stroke="#bb2b52" stroke-width="0.15" text-anchor="middle" textLength="8.88" lengthAdjust="spacingAndGlyphs" >23</text>
<text x="384.10" y="396.90" font-size="8.4" fill="#bb2b52" stroke="#bb2b52" stroke-width="0.15" text-anchor="middle" textLength="8.88" lengthAdjust="spacingAndGlyphs" >17</text>
<text x="397.70" y="396.90" font-size="8.4" fill="#bb2b52" stroke="#bb2b52" stroke-width="0.15" text-anchor="middle" textLength="8.88" lengthAdjust="spacingAndGlyphs" >16</text>
<text x="411.30" y="396.90" font-size="8.4" fill="#bb2b52" stroke="#bb2b52" stroke-width="0.15" text-anchor="middle" textLength="8.88" lengthAdjust="spacingAndGlyphs" >13</text>
<text x="424.90" y="396.90" font-size="8.4" fill="#bb2b52" stroke="#bb2b52" stroke-width="0.15" text-anchor="middle" textLength="8.28" lengthAdjust="spacingAndGlyphs" >11</text>
<text x="438.50" y="396.90" font-size="8.4" fill="#bb2b52" stroke="#bb2b52" stroke-width="0.15" text-anchor="middle" textLength="4.44" lengthAdjust="spacingAndGlyphs" >5</text>
<text x="452.10" y="396.90" font-size="8.4" fill="#bb2b52" stroke="#bb2b52" stroke-width="0.15" text-anchor="middle" textLength="4.44" lengthAdjust="spacingAndGlyphs" >4</text>
<text x="465.70" y="396.90" font-size="8.4" fill="#bb2b52" stroke="#bb2b52" stroke-width="0.15" text-anchor="middle" textLength="4.44" lengthAdjust="spacingAndGlyphs" >2</text>
<text x="479.30" y="396.90" font-size="8.4" fill="#bb2b52" stroke="#bb2b52" stroke-width="0.15" text-anchor="middle" textLength="4.44" lengthAdjust="spacingAndGlyphs" >2</text>
<text x="492.90" y="396.90" font-size="8.4" fill="#bb2b52" stroke="#bb2b52" stroke-width="0.15" text-anchor="middle" textLength="4.44" lengthAdjust="spacingAndGlyphs" >2</text>
<text x="506.50" y="396.90" font-size="8.4" fill="#bb2b52" stroke="#bb2b52" stroke-width="0.15" text-anchor="middle" textLength="4.44" lengthAdjust="spacingAndGlyphs" >0</text>
<text transform="translate(163.75,423.20) scale(0.85,1)" x="0" y="0" font-size="8.4" fill="#2a2a2a" stroke="#2a2a2a" stroke-width="0.12" text-anchor="middle" textLength="23.18" lengthAdjust="spacing" >eGFR</text>
<path d="M103.30,428.70 V524.45 M102.45,523.70 H252.40" stroke="#1a1a1a" stroke-width="1.6" fill="none"/>
<path d="M99.30,431.90 H103.30 M99.30,443.00 H103.30 M99.30,454.10 H103.30 M99.30,465.20 H103.30 M99.30,476.30 H103.30 M99.30,487.40 H103.30 M99.30,498.50 H103.30 M99.30,509.60 H103.30 M99.30,520.70 H103.30 M108.40,523.70 V527.70 M122.23,523.70 V527.70 M136.06,523.70 V527.70 M149.89,523.70 V527.70 M163.72,523.70 V527.70 M177.55,523.70 V527.70 M191.38,523.70 V527.70 M205.21,523.70 V527.70 M219.04,523.70 V527.70 M232.87,523.70 V527.70 M246.70,523.70 V527.70" stroke="#1a1a1a" stroke-width="1.3" fill="none"/>
<text transform="translate(87.50,434.70) scale(0.88,1)" x="0" y="0" font-size="8.4" fill="#2a2a2a" stroke="#2a2a2a" stroke-width="0.15" text-anchor="end" >100</text>
<text transform="translate(89.30,434.70) scale(0.86,1)" x="0" y="0" font-size="8.2" fill="#2a2a2a" stroke="#2a2a2a" stroke-width="0.16" >%</text>
<text transform="translate(87.50,456.90) scale(0.88,1)" x="0" y="0" font-size="8.4" fill="#2a2a2a" stroke="#2a2a2a" stroke-width="0.15" text-anchor="end" >75</text>
<text transform="translate(89.30,456.90) scale(0.86,1)" x="0" y="0" font-size="8.2" fill="#2a2a2a" stroke="#2a2a2a" stroke-width="0.16" >%</text>
<text transform="translate(87.50,479.10) scale(0.88,1)" x="0" y="0" font-size="8.4" fill="#2a2a2a" stroke="#2a2a2a" stroke-width="0.15" text-anchor="end" >50</text>
<text transform="translate(89.30,479.10) scale(0.86,1)" x="0" y="0" font-size="8.2" fill="#2a2a2a" stroke="#2a2a2a" stroke-width="0.16" >%</text>
<text transform="translate(87.50,501.30) scale(0.88,1)" x="0" y="0" font-size="8.4" fill="#2a2a2a" stroke="#2a2a2a" stroke-width="0.15" text-anchor="end" >25</text>
<text transform="translate(89.30,501.30) scale(0.86,1)" x="0" y="0" font-size="8.2" fill="#2a2a2a" stroke="#2a2a2a" stroke-width="0.16" >%</text>
<text transform="translate(87.50,523.50) scale(0.88,1)" x="0" y="0" font-size="8.4" fill="#2a2a2a" stroke="#2a2a2a" stroke-width="0.15" text-anchor="end" >0</text>
<text transform="translate(89.30,523.50) scale(0.86,1)" x="0" y="0" font-size="8.2" fill="#2a2a2a" stroke="#2a2a2a" stroke-width="0.16" >%</text>
<text transform="translate(108.40,538.20) scale(0.87,1)" x="0" y="0" font-size="8.6" fill="#2a2a2a" stroke="#2a2a2a" stroke-width="0.15" text-anchor="middle" >0</text>
<text transform="translate(122.23,538.20) scale(0.87,1)" x="0" y="0" font-size="8.6" fill="#2a2a2a" stroke="#2a2a2a" stroke-width="0.15" text-anchor="middle" >3</text>
<text transform="translate(136.06,538.20) scale(0.87,1)" x="0" y="0" font-size="8.6" fill="#2a2a2a" stroke="#2a2a2a" stroke-width="0.15" text-anchor="middle" >6</text>
<text transform="translate(149.89,538.20) scale(0.87,1)" x="0" y="0" font-size="8.6" fill="#2a2a2a" stroke="#2a2a2a" stroke-width="0.15" text-anchor="middle" >9</text>
<text transform="translate(163.72,538.20) scale(0.87,1)" x="0" y="0" font-size="8.6" fill="#2a2a2a" stroke="#2a2a2a" stroke-width="0.15" text-anchor="middle" >12</text>
<text transform="translate(177.55,538.20) scale(0.87,1)" x="0" y="0" font-size="8.6" fill="#2a2a2a" stroke="#2a2a2a" stroke-width="0.15" text-anchor="middle" >15</text>
<text transform="translate(191.38,538.20) scale(0.87,1)" x="0" y="0" font-size="8.6" fill="#2a2a2a" stroke="#2a2a2a" stroke-width="0.15" text-anchor="middle" >18</text>
<text transform="translate(205.21,538.20) scale(0.87,1)" x="0" y="0" font-size="8.6" fill="#2a2a2a" stroke="#2a2a2a" stroke-width="0.15" text-anchor="middle" >21</text>
<text transform="translate(219.04,538.20) scale(0.87,1)" x="0" y="0" font-size="8.6" fill="#2a2a2a" stroke="#2a2a2a" stroke-width="0.15" text-anchor="middle" >24</text>
<text transform="translate(232.87,538.20) scale(0.87,1)" x="0" y="0" font-size="8.6" fill="#2a2a2a" stroke="#2a2a2a" stroke-width="0.15" text-anchor="middle" >27</text>
<text transform="translate(246.70,538.20) scale(0.87,1)" x="0" y="0" font-size="8.6" fill="#2a2a2a" stroke="#2a2a2a" stroke-width="0.15" text-anchor="middle" >30</text>
<text transform="translate(177.85,552.30) scale(0.74,1)" x="0" y="0" font-size="10.6" fill="#2a2a2a" stroke="#2a2a2a" stroke-width="0.06" text-anchor="middle" textLength="75.68" lengthAdjust="spacing" >Time in months</text>
<text x="0" y="0" font-size="10.8" fill="#2a2a2a" stroke="#2a2a2a" stroke-width="0.06" text-anchor="middle" textLength="94.19" lengthAdjust="spacing" transform="translate(68.30,475.70) rotate(-90) scale(0.74,1)">Survival probability</text>
<text transform="translate(106.50,517.90) scale(0.88,1)" x="0" y="0" font-size="8.8" fill="#2a2a2a" stroke="#2a2a2a" stroke-width="0.15" textLength="28.06" lengthAdjust="spacing" >p=0.79</text>
<path d="M163.80,428.80 V523.70" stroke="#1a1a1a" stroke-width="1.4" stroke-dasharray="3.8 2.5" stroke-dashoffset="2.1" fill="none"/>
<path d="M108.5,431.9 H114.2 V438.5 H116.3 V441.3 H118.8 V444.5 H122.3 V447.7 H126 V453.9 H133.2 V457 H138.8 V460.2 H139.8 V463.6 H160.6 V467.9 H163.4 V472.7 H196.3 V484.7 H220.6" stroke="#233f80" stroke-width="1.6" fill="none" stroke-linejoin="miter" stroke-linecap="square"/>
<path d="M108.5,431.9 V434.4 H109.6 V437.3 H111.3 V439.6 H116 V445.4 H120.2 V450.9 H124.6 V456.7 H136.2 V461.1 H137.7 V465.8 H152.5 V470 H154.2 V473.4 H161.7 V476.8 H210.5 V484.2 H234.4" stroke="#a80c34" stroke-width="1.6" fill="none" stroke-linejoin="miter" stroke-linecap="square"/>
<text transform="translate(96.00,565.00) scale(0.88,1)" x="0" y="0" font-size="8.6" fill="#2a2a2a" stroke="#2a2a2a" stroke-width="0.15" textLength="57.61" lengthAdjust="spacing" >Number at risk</text>
<text x="8.50" y="577.20" font-size="8.3" fill="#3f5c9c" stroke="#3f5c9c" stroke-width="0.15" textLength="85.10" lengthAdjust="spacingAndGlyphs" >eGFR ≥ 50ml/min/1 73m</text>
<text x="94.20" y="573.60" font-size="4.6" fill="#3f5c9c" stroke="#3f5c9c" stroke-width="0.1" >2</text>
<text x="98.40" y="577.20" font-size="8.3" fill="#2a2a2a" stroke="#2a2a2a" stroke-width="0.3" >:</text>
<text x="108.60" y="577.20" font-size="8.4" fill="#3f5c9c" stroke="#3f5c9c" stroke-width="0.15" text-anchor="middle" textLength="8.88" lengthAdjust="spacingAndGlyphs" >29</text>
<text x="122.43" y="577.20" font-size="8.4" fill="#3f5c9c" stroke="#3f5c9c" stroke-width="0.15" text-anchor="middle" textLength="8.88" lengthAdjust="spacingAndGlyphs" >25</text>
<text x="136.26" y="577.20" font-size="8.4" fill="#3f5c9c" stroke="#3f5c9c" stroke-width="0.15" text-anchor="middle" textLength="8.88" lengthAdjust="spacingAndGlyphs" >19</text>
<text x="150.09" y="577.20" font-size="8.4" fill="#3f5c9c" stroke="#3f5c9c" stroke-width="0.15" text-anchor="middle" textLength="8.88" lengthAdjust="spacingAndGlyphs" >17</text>
<text x="163.92" y="577.20" font-size="8.4" fill="#3f5c9c" stroke="#3f5c9c" stroke-width="0.15" text-anchor="middle" textLength="8.88" lengthAdjust="spacingAndGlyphs" >13</text>
<text x="177.75" y="577.20" font-size="8.4" fill="#3f5c9c" stroke="#3f5c9c" stroke-width="0.15" text-anchor="middle" textLength="8.88" lengthAdjust="spacingAndGlyphs" >10</text>
<text x="191.58" y="577.20" font-size="8.4" fill="#3f5c9c" stroke="#3f5c9c" stroke-width="0.15" text-anchor="middle" textLength="8.88" lengthAdjust="spacingAndGlyphs" >10</text>
<text x="205.41" y="577.20" font-size="8.4" fill="#3f5c9c" stroke="#3f5c9c" stroke-width="0.15" text-anchor="middle" textLength="4.44" lengthAdjust="spacingAndGlyphs" >3</text>
<text x="219.24" y="577.20" font-size="8.4" fill="#3f5c9c" stroke="#3f5c9c" stroke-width="0.15" text-anchor="middle" textLength="4.44" lengthAdjust="spacingAndGlyphs" >2</text>
<text x="233.07" y="577.20" font-size="8.4" fill="#3f5c9c" stroke="#3f5c9c" stroke-width="0.15" text-anchor="middle" textLength="4.44" lengthAdjust="spacingAndGlyphs" >0</text>
<text x="246.90" y="577.20" font-size="8.4" fill="#3f5c9c" stroke="#3f5c9c" stroke-width="0.15" text-anchor="middle" textLength="4.44" lengthAdjust="spacingAndGlyphs" >0</text>
<text x="8.50" y="589.40" font-size="8.3" fill="#bb2b52" stroke="#bb2b52" stroke-width="0.15" textLength="85.10" lengthAdjust="spacingAndGlyphs" >eGFR &lt; 50ml/min/1 73m</text>
<text x="94.20" y="585.80" font-size="4.6" fill="#bb2b52" stroke="#bb2b52" stroke-width="0.1" >2</text>
<text x="98.40" y="589.40" font-size="8.3" fill="#2a2a2a" stroke="#2a2a2a" stroke-width="0.3" >:</text>
<text x="108.60" y="589.40" font-size="8.4" fill="#bb2b52" stroke="#bb2b52" stroke-width="0.15" text-anchor="middle" textLength="8.88" lengthAdjust="spacingAndGlyphs" >33</text>
<text x="122.43" y="589.40" font-size="8.4" fill="#bb2b52" stroke="#bb2b52" stroke-width="0.15" text-anchor="middle" textLength="8.88" lengthAdjust="spacingAndGlyphs" >25</text>
<text x="136.26" y="589.40" font-size="8.4" fill="#bb2b52" stroke="#bb2b52" stroke-width="0.15" text-anchor="middle" textLength="8.88" lengthAdjust="spacingAndGlyphs" >21</text>
<text x="150.09" y="589.40" font-size="8.4" fill="#bb2b52" stroke="#bb2b52" stroke-width="0.15" text-anchor="middle" textLength="8.88" lengthAdjust="spacingAndGlyphs" >15</text>
<text x="163.92" y="589.40" font-size="8.4" fill="#bb2b52" stroke="#bb2b52" stroke-width="0.15" text-anchor="middle" textLength="8.88" lengthAdjust="spacingAndGlyphs" >13</text>
<text x="177.75" y="589.40" font-size="8.4" fill="#bb2b52" stroke="#bb2b52" stroke-width="0.15" text-anchor="middle" textLength="8.88" lengthAdjust="spacingAndGlyphs" >12</text>
<text x="191.58" y="589.40" font-size="8.4" fill="#bb2b52" stroke="#bb2b52" stroke-width="0.15" text-anchor="middle" textLength="8.28" lengthAdjust="spacingAndGlyphs" >11</text>
<text x="205.41" y="589.40" font-size="8.4" fill="#bb2b52" stroke="#bb2b52" stroke-width="0.15" text-anchor="middle" textLength="4.44" lengthAdjust="spacingAndGlyphs" >8</text>
<text x="219.24" y="589.40" font-size="8.4" fill="#bb2b52" stroke="#bb2b52" stroke-width="0.15" text-anchor="middle" textLength="4.44" lengthAdjust="spacingAndGlyphs" >6</text>
<text x="233.07" y="589.40" font-size="8.4" fill="#bb2b52" stroke="#bb2b52" stroke-width="0.15" text-anchor="middle" textLength="4.44" lengthAdjust="spacingAndGlyphs" >4</text>
<text x="246.90" y="589.40" font-size="8.4" fill="#bb2b52" stroke="#bb2b52" stroke-width="0.15" text-anchor="middle" textLength="4.44" lengthAdjust="spacingAndGlyphs" >1</text>
<text transform="translate(424.30,426.80) scale(0.85,1)" x="0" y="0" font-size="8.4" fill="#2a2a2a" stroke="#2a2a2a" stroke-width="0.12" text-anchor="middle" textLength="22.82" lengthAdjust="spacing" >eGFR</text>
<path d="M365.60,432.00 V524.25 M364.75,523.50 H509.40" stroke="#1a1a1a" stroke-width="1.6" fill="none"/>
<path d="M361.60,435.50 H365.60 M361.60,446.10 H365.60 M361.60,456.70 H365.60 M361.60,467.30 H365.60 M361.60,477.90 H365.60 M361.60,488.50 H365.60 M361.60,499.10 H365.60 M361.60,509.70 H365.60 M361.60,520.30 H365.60 M370.80,523.50 V527.50 M384.12,523.50 V527.50 M397.44,523.50 V527.50 M410.76,523.50 V527.50 M424.08,523.50 V527.50 M437.40,523.50 V527.50 M450.72,523.50 V527.50 M464.04,523.50 V527.50 M477.36,523.50 V527.50 M490.68,523.50 V527.50 M504.00,523.50 V527.50" stroke="#1a1a1a" stroke-width="1.3" fill="none"/>
<text transform="translate(349.80,438.30) scale(0.88,1)" x="0" y="0" font-size="8.4" fill="#2a2a2a" stroke="#2a2a2a" stroke-width="0.15" text-anchor="end" >100</text>
<text transform="translate(351.60,438.30) scale(0.86,1)" x="0" y="0" font-size="8.2" fill="#2a2a2a" stroke="#2a2a2a" stroke-width="0.16" >%</text>
<text transform="translate(349.80,459.50) scale(0.88,1)" x="0" y="0" font-size="8.4" fill="#2a2a2a" stroke="#2a2a2a" stroke-width="0.15" text-anchor="end" >75</text>
<text transform="translate(351.60,459.50) scale(0.86,1)" x="0" y="0" font-size="8.2" fill="#2a2a2a" stroke="#2a2a2a" stroke-width="0.16" >%</text>
<text transform="translate(349.80,480.70) scale(0.88,1)" x="0" y="0" font-size="8.4" fill="#2a2a2a" stroke="#2a2a2a" stroke-width="0.15" text-anchor="end" >50</text>
<text transform="translate(351.60,480.70) scale(0.86,1)" x="0" y="0" font-size="8.2" fill="#2a2a2a" stroke="#2a2a2a" stroke-width="0.16" >%</text>
<text transform="translate(349.80,501.90) scale(0.88,1)" x="0" y="0" font-size="8.4" fill="#2a2a2a" stroke="#2a2a2a" stroke-width="0.15" text-anchor="end" >25</text>
<text transform="translate(351.60,501.90) scale(0.86,1)" x="0" y="0" font-size="8.2" fill="#2a2a2a" stroke="#2a2a2a" stroke-width="0.16" >%</text>
<text transform="translate(349.80,523.10) scale(0.88,1)" x="0" y="0" font-size="8.4" fill="#2a2a2a" stroke="#2a2a2a" stroke-width="0.15" text-anchor="end" >0</text>
<text transform="translate(351.60,523.10) scale(0.86,1)" x="0" y="0" font-size="8.2" fill="#2a2a2a" stroke="#2a2a2a" stroke-width="0.16" >%</text>
<text transform="translate(370.80,538.00) scale(0.87,1)" x="0" y="0" font-size="8.6" fill="#2a2a2a" stroke="#2a2a2a" stroke-width="0.15" text-anchor="middle" >0</text>
<text transform="translate(384.12,538.00) scale(0.87,1)" x="0" y="0" font-size="8.6" fill="#2a2a2a" stroke="#2a2a2a" stroke-width="0.15" text-anchor="middle" >3</text>
<text transform="translate(397.44,538.00) scale(0.87,1)" x="0" y="0" font-size="8.6" fill="#2a2a2a" stroke="#2a2a2a" stroke-width="0.15" text-anchor="middle" >6</text>
<text transform="translate(410.76,538.00) scale(0.87,1)" x="0" y="0" font-size="8.6" fill="#2a2a2a" stroke="#2a2a2a" stroke-width="0.15" text-anchor="middle" >9</text>
<text transform="translate(424.08,538.00) scale(0.87,1)" x="0" y="0" font-size="8.6" fill="#2a2a2a" stroke="#2a2a2a" stroke-width="0.15" text-anchor="middle" >12</text>
<text transform="translate(437.40,538.00) scale(0.87,1)" x="0" y="0" font-size="8.6" fill="#2a2a2a" stroke="#2a2a2a" stroke-width="0.15" text-anchor="middle" >15</text>
<text transform="translate(450.72,538.00) scale(0.87,1)" x="0" y="0" font-size="8.6" fill="#2a2a2a" stroke="#2a2a2a" stroke-width="0.15" text-anchor="middle" >18</text>
<text transform="translate(464.04,538.00) scale(0.87,1)" x="0" y="0" font-size="8.6" fill="#2a2a2a" stroke="#2a2a2a" stroke-width="0.15" text-anchor="middle" >21</text>
<text transform="translate(477.36,538.00) scale(0.87,1)" x="0" y="0" font-size="8.6" fill="#2a2a2a" stroke="#2a2a2a" stroke-width="0.15" text-anchor="middle" >24</text>
<text transform="translate(490.68,538.00) scale(0.87,1)" x="0" y="0" font-size="8.6" fill="#2a2a2a" stroke="#2a2a2a" stroke-width="0.15" text-anchor="middle" >27</text>
<text transform="translate(504.00,538.00) scale(0.87,1)" x="0" y="0" font-size="8.6" fill="#2a2a2a" stroke="#2a2a2a" stroke-width="0.15" text-anchor="middle" >30</text>
<text transform="translate(437.50,552.10) scale(0.74,1)" x="0" y="0" font-size="10.6" fill="#2a2a2a" stroke="#2a2a2a" stroke-width="0.06" text-anchor="middle" textLength="75.68" lengthAdjust="spacing" >Time in months</text>
<text x="0" y="0" font-size="10.8" fill="#2a2a2a" stroke="#2a2a2a" stroke-width="0.06" text-anchor="middle" textLength="94.19" lengthAdjust="spacing" transform="translate(330.60,477.30) rotate(-90) scale(0.74,1)">Survival probability</text>
<text transform="translate(368.60,517.50) scale(0.88,1)" x="0" y="0" font-size="8.8" fill="#2a2a2a" stroke="#2a2a2a" stroke-width="0.15" textLength="28.06" lengthAdjust="spacing" >p=0.43</text>
<path d="M424.20,432.00 V523.50" stroke="#1a1a1a" stroke-width="1.4" stroke-dasharray="3.8 2.5" stroke-dashoffset="2.1" fill="none"/>
<path d="M371.1,435.6 H375.8 V441 H380.6 V444.2 H400.5 V447.4 H401.4 V450.7 H426.7 V455.8 H493.5" stroke="#233f80" stroke-width="1.6" fill="none" stroke-linejoin="miter" stroke-linecap="square"/>
<path d="M371.1,435.6 V437.5 H372.9 V439.8 H375.2 V442.7 H377.8 V445.7 H395.1 V448.6 H397.4 V451.3 H401.6 V454.1 H411 V457.4 H413.4 V460.8 H422.5 V463.9 H496.9" stroke="#a80c34" stroke-width="1.6" fill="none" stroke-linejoin="miter" stroke-linecap="square"/>
<text transform="translate(358.30,564.80) scale(0.88,1)" x="0" y="0" font-size="8.6" fill="#2a2a2a" stroke="#2a2a2a" stroke-width="0.15" textLength="57.61" lengthAdjust="spacing" >Number at risk</text>
<text x="270.80" y="577.00" font-size="8.3" fill="#3f5c9c" stroke="#3f5c9c" stroke-width="0.15" textLength="85.20" lengthAdjust="spacingAndGlyphs" >eGFR ≥ 50ml/min/1 73m</text>
<text x="356.60" y="573.40" font-size="4.6" fill="#3f5c9c" stroke="#3f5c9c" stroke-width="0.1" >2</text>
<text x="360.80" y="577.00" font-size="8.3" fill="#2a2a2a" stroke="#2a2a2a" stroke-width="0.3" >:</text>
<text x="371.00" y="577.00" font-size="8.4" fill="#3f5c9c" stroke="#3f5c9c" stroke-width="0.15" text-anchor="middle" textLength="8.88" lengthAdjust="spacingAndGlyphs" >29</text>
<text x="384.32" y="577.00" font-size="8.4" fill="#3f5c9c" stroke="#3f5c9c" stroke-width="0.15" text-anchor="middle" textLength="8.88" lengthAdjust="spacingAndGlyphs" >26</text>
<text x="397.64" y="577.00" font-size="8.4" fill="#3f5c9c" stroke="#3f5c9c" stroke-width="0.15" text-anchor="middle" textLength="8.88" lengthAdjust="spacingAndGlyphs" >23</text>
<text x="410.96" y="577.00" font-size="8.4" fill="#3f5c9c" stroke="#3f5c9c" stroke-width="0.15" text-anchor="middle" textLength="8.88" lengthAdjust="spacingAndGlyphs" >20</text>
<text x="424.28" y="577.00" font-size="8.4" fill="#3f5c9c" stroke="#3f5c9c" stroke-width="0.15" text-anchor="middle" textLength="8.88" lengthAdjust="spacingAndGlyphs" >15</text>
<text x="437.60" y="577.00" font-size="8.4" fill="#3f5c9c" stroke="#3f5c9c" stroke-width="0.15" text-anchor="middle" textLength="8.88" lengthAdjust="spacingAndGlyphs" >13</text>
<text x="450.92" y="577.00" font-size="8.4" fill="#3f5c9c" stroke="#3f5c9c" stroke-width="0.15" text-anchor="middle" textLength="8.28" lengthAdjust="spacingAndGlyphs" >11</text>
<text x="464.24" y="577.00" font-size="8.4" fill="#3f5c9c" stroke="#3f5c9c" stroke-width="0.15" text-anchor="middle" textLength="4.44" lengthAdjust="spacingAndGlyphs" >4</text>
<text x="477.56" y="577.00" font-size="8.4" fill="#3f5c9c" stroke="#3f5c9c" stroke-width="0.15" text-anchor="middle" textLength="4.44" lengthAdjust="spacingAndGlyphs" >2</text>
<text x="490.88" y="577.00" font-size="8.4" fill="#3f5c9c" stroke="#3f5c9c" stroke-width="0.15" text-anchor="middle" textLength="4.44" lengthAdjust="spacingAndGlyphs" >1</text>
<text x="504.20" y="577.00" font-size="8.4" fill="#3f5c9c" stroke="#3f5c9c" stroke-width="0.15" text-anchor="middle" textLength="4.44" lengthAdjust="spacingAndGlyphs" >0</text>
<text x="270.80" y="589.20" font-size="8.3" fill="#bb2b52" stroke="#bb2b52" stroke-width="0.15" textLength="85.20" lengthAdjust="spacingAndGlyphs" >eGFR &lt; 50ml/min/1 73m</text>
<text x="356.60" y="585.60" font-size="4.6" fill="#bb2b52" stroke="#bb2b52" stroke-width="0.1" >2</text>
<text x="360.80" y="589.20" font-size="8.3" fill="#2a2a2a" stroke="#2a2a2a" stroke-width="0.3" >:</text>
<text x="371.00" y="589.20" font-size="8.4" fill="#bb2b52" stroke="#bb2b52" stroke-width="0.15" text-anchor="middle" textLength="8.88" lengthAdjust="spacingAndGlyphs" >33</text>
<text x="384.32" y="589.20" font-size="8.4" fill="#bb2b52" stroke="#bb2b52" stroke-width="0.15" text-anchor="middle" textLength="8.88" lengthAdjust="spacingAndGlyphs" >28</text>
<text x="397.64" y="589.20" font-size="8.4" fill="#bb2b52" stroke="#bb2b52" stroke-width="0.15" text-anchor="middle" textLength="8.88" lengthAdjust="spacingAndGlyphs" >25</text>
<text x="410.96" y="589.20" font-size="8.4" fill="#bb2b52" stroke="#bb2b52" stroke-width="0.15" text-anchor="middle" textLength="8.88" lengthAdjust="spacingAndGlyphs" >21</text>
<text x="424.28" y="589.20" font-size="8.4" fill="#bb2b52" stroke="#bb2b52" stroke-width="0.15" text-anchor="middle" textLength="8.88" lengthAdjust="spacingAndGlyphs" >19</text>
<text x="437.60" y="589.20" font-size="8.4" fill="#bb2b52" stroke="#bb2b52" stroke-width="0.15" text-anchor="middle" textLength="8.88" lengthAdjust="spacingAndGlyphs" >13</text>
<text x="450.92" y="589.20" font-size="8.4" fill="#bb2b52" stroke="#bb2b52" stroke-width="0.15" text-anchor="middle" textLength="8.28" lengthAdjust="spacingAndGlyphs" >11</text>
<text x="464.24" y="589.20" font-size="8.4" fill="#bb2b52" stroke="#bb2b52" stroke-width="0.15" text-anchor="middle" textLength="4.44" lengthAdjust="spacingAndGlyphs" >9</text>
<text x="477.56" y="589.20" font-size="8.4" fill="#bb2b52" stroke="#bb2b52" stroke-width="0.15" text-anchor="middle" textLength="4.44" lengthAdjust="spacingAndGlyphs" >7</text>
<text x="490.88" y="589.20" font-size="8.4" fill="#bb2b52" stroke="#bb2b52" stroke-width="0.15" text-anchor="middle" textLength="4.44" lengthAdjust="spacingAndGlyphs" >5</text>
<text x="504.20" y="589.20" font-size="8.4" fill="#bb2b52" stroke="#bb2b52" stroke-width="0.15" text-anchor="middle" textLength="4.44" lengthAdjust="spacingAndGlyphs" >1</text>
<text transform="translate(161.75,615.50) scale(0.85,1)" x="0" y="0" font-size="8.4" fill="#2a2a2a" stroke="#2a2a2a" stroke-width="0.12" text-anchor="middle" textLength="46.24" lengthAdjust="spacing" >NT-ProBNP</text>
<path d="M103.20,621.30 V721.75 M102.35,721.00 H245.80" stroke="#1a1a1a" stroke-width="1.6" fill="none"/>
<path d="M99.20,624.60 H103.20 M99.20,636.31 H103.20 M99.20,648.02 H103.20 M99.20,659.74 H103.20 M99.20,671.45 H103.20 M99.20,683.16 H103.20 M99.20,694.88 H103.20 M99.20,706.59 H103.20 M99.20,718.30 H103.20 M108.30,721.00 V725.00 M121.53,721.00 V725.00 M134.76,721.00 V725.00 M147.99,721.00 V725.00 M161.22,721.00 V725.00 M174.45,721.00 V725.00 M187.68,721.00 V725.00 M200.91,721.00 V725.00 M214.14,721.00 V725.00 M227.37,721.00 V725.00 M240.60,721.00 V725.00" stroke="#1a1a1a" stroke-width="1.3" fill="none"/>
<text transform="translate(87.40,627.40) scale(0.88,1)" x="0" y="0" font-size="8.4" fill="#2a2a2a" stroke="#2a2a2a" stroke-width="0.15" text-anchor="end" >100</text>
<text transform="translate(89.20,627.40) scale(0.86,1)" x="0" y="0" font-size="8.2" fill="#2a2a2a" stroke="#2a2a2a" stroke-width="0.16" >%</text>
<text transform="translate(87.40,650.82) scale(0.88,1)" x="0" y="0" font-size="8.4" fill="#2a2a2a" stroke="#2a2a2a" stroke-width="0.15" text-anchor="end" >75</text>
<text transform="translate(89.20,650.82) scale(0.86,1)" x="0" y="0" font-size="8.2" fill="#2a2a2a" stroke="#2a2a2a" stroke-width="0.16" >%</text>
<text transform="translate(87.40,674.25) scale(0.88,1)" x="0" y="0" font-size="8.4" fill="#2a2a2a" stroke="#2a2a2a" stroke-width="0.15" text-anchor="end" >50</text>
<text transform="translate(89.20,674.25) scale(0.86,1)" x="0" y="0" font-size="8.2" fill="#2a2a2a" stroke="#2a2a2a" stroke-width="0.16" >%</text>
<text transform="translate(87.40,697.67) scale(0.88,1)" x="0" y="0" font-size="8.4" fill="#2a2a2a" stroke="#2a2a2a" stroke-width="0.15" text-anchor="end" >25</text>
<text transform="translate(89.20,697.67) scale(0.86,1)" x="0" y="0" font-size="8.2" fill="#2a2a2a" stroke="#2a2a2a" stroke-width="0.16" >%</text>
<text transform="translate(87.40,721.10) scale(0.88,1)" x="0" y="0" font-size="8.4" fill="#2a2a2a" stroke="#2a2a2a" stroke-width="0.15" text-anchor="end" >0</text>
<text transform="translate(89.20,721.10) scale(0.86,1)" x="0" y="0" font-size="8.2" fill="#2a2a2a" stroke="#2a2a2a" stroke-width="0.16" >%</text>
<text transform="translate(108.30,735.50) scale(0.87,1)" x="0" y="0" font-size="8.6" fill="#2a2a2a" stroke="#2a2a2a" stroke-width="0.15" text-anchor="middle" >0</text>
<text transform="translate(121.53,735.50) scale(0.87,1)" x="0" y="0" font-size="8.6" fill="#2a2a2a" stroke="#2a2a2a" stroke-width="0.15" text-anchor="middle" >3</text>
<text transform="translate(134.76,735.50) scale(0.87,1)" x="0" y="0" font-size="8.6" fill="#2a2a2a" stroke="#2a2a2a" stroke-width="0.15" text-anchor="middle" >6</text>
<text transform="translate(147.99,735.50) scale(0.87,1)" x="0" y="0" font-size="8.6" fill="#2a2a2a" stroke="#2a2a2a" stroke-width="0.15" text-anchor="middle" >9</text>
<text transform="translate(161.22,735.50) scale(0.87,1)" x="0" y="0" font-size="8.6" fill="#2a2a2a" stroke="#2a2a2a" stroke-width="0.15" text-anchor="middle" >12</text>
<text transform="translate(174.45,735.50) scale(0.87,1)" x="0" y="0" font-size="8.6" fill="#2a2a2a" stroke="#2a2a2a" stroke-width="0.15" text-anchor="middle" >15</text>
<text transform="translate(187.68,735.50) scale(0.87,1)" x="0" y="0" font-size="8.6" fill="#2a2a2a" stroke="#2a2a2a" stroke-width="0.15" text-anchor="middle" >18</text>
<text transform="translate(200.91,735.50) scale(0.87,1)" x="0" y="0" font-size="8.6" fill="#2a2a2a" stroke="#2a2a2a" stroke-width="0.15" text-anchor="middle" >21</text>
<text transform="translate(214.14,735.50) scale(0.87,1)" x="0" y="0" font-size="8.6" fill="#2a2a2a" stroke="#2a2a2a" stroke-width="0.15" text-anchor="middle" >24</text>
<text transform="translate(227.37,735.50) scale(0.87,1)" x="0" y="0" font-size="8.6" fill="#2a2a2a" stroke="#2a2a2a" stroke-width="0.15" text-anchor="middle" >27</text>
<text transform="translate(240.60,735.50) scale(0.87,1)" x="0" y="0" font-size="8.6" fill="#2a2a2a" stroke="#2a2a2a" stroke-width="0.15" text-anchor="middle" >30</text>
<text transform="translate(174.50,749.60) scale(0.74,1)" x="0" y="0" font-size="10.6" fill="#2a2a2a" stroke="#2a2a2a" stroke-width="0.06" text-anchor="middle" textLength="75.68" lengthAdjust="spacing" >Time in months</text>
<text x="0" y="0" font-size="10.8" fill="#2a2a2a" stroke="#2a2a2a" stroke-width="0.06" text-anchor="middle" textLength="94.19" lengthAdjust="spacing" transform="translate(68.20,670.85) rotate(-90) scale(0.74,1)">Survival probability</text>
<text transform="translate(105.20,715.50) scale(0.88,1)" x="0" y="0" font-size="8.8" fill="#2a2a2a" stroke="#2a2a2a" stroke-width="0.15" textLength="33.11" lengthAdjust="spacing" >p=0.022</text>
<path d="M161.40,620.80 V721.00" stroke="#1a1a1a" stroke-width="1.4" stroke-dasharray="3.8 2.5" stroke-dashoffset="2.1" fill="none"/>
<path d="M108.5,624.6 H113.6 V626.5 H115.6 V629.4 H120.6 V632.3 H124.4 V637.5 H126 V639.9 H131.8 V642.7 H136.5 V645.3 H137.5 V648.3 H152.5 V651.7 H158.3 V655.4 H160.9 V659.3 H192.5 V667.3 H229.6" stroke="#233f80" stroke-width="1.6" fill="none" stroke-linejoin="miter" stroke-linecap="square"/>
<path d="M108.5,624.6 V628.3 H110.5 V632.3 H114 V639.8 H115.6 V646.7 H117.7 V650.2 H120.2 V654.8 H121.4 V658.6 H124.4 V661.6 H134.5 V666.3 H135.8 V670.4 H138.2 V674.4 H150.8 V679 H159.8 V684.7 H206 V692.9 H222.7" stroke="#a80c34" stroke-width="1.6" fill="none" stroke-linejoin="miter" stroke-linecap="square"/>
<text transform="translate(95.90,762.30) scale(0.88,1)" x="0" y="0" font-size="8.6" fill="#2a2a2a" stroke="#2a2a2a" stroke-width="0.15" textLength="57.61" lengthAdjust="spacing" >Number at risk</text>
<text x="17.50" y="774.50" font-size="8.3" fill="#3f5c9c" stroke="#3f5c9c" stroke-width="0.15" textLength="78.20" lengthAdjust="spacingAndGlyphs" >NT-ProBNP ≤ 8500ng/l</text>
<text x="98.30" y="774.50" font-size="8.3" fill="#2a2a2a" stroke="#2a2a2a" stroke-width="0.3" >:</text>
<text x="108.50" y="774.50" font-size="8.4" fill="#3f5c9c" stroke="#3f5c9c" stroke-width="0.15" text-anchor="middle" textLength="8.88" lengthAdjust="spacingAndGlyphs" >37</text>
<text x="121.73" y="774.50" font-size="8.4" fill="#3f5c9c" stroke="#3f5c9c" stroke-width="0.15" text-anchor="middle" textLength="8.88" lengthAdjust="spacingAndGlyphs" >33</text>
<text x="134.96" y="774.50" font-size="8.4" fill="#3f5c9c" stroke="#3f5c9c" stroke-width="0.15" text-anchor="middle" textLength="8.88" lengthAdjust="spacingAndGlyphs" >27</text>
<text x="148.19" y="774.50" font-size="8.4" fill="#3f5c9c" stroke="#3f5c9c" stroke-width="0.15" text-anchor="middle" textLength="8.88" lengthAdjust="spacingAndGlyphs" >22</text>
<text x="161.42" y="774.50" font-size="8.4" fill="#3f5c9c" stroke="#3f5c9c" stroke-width="0.15" text-anchor="middle" textLength="8.88" lengthAdjust="spacingAndGlyphs" >18</text>
<text x="174.65" y="774.50" font-size="8.4" fill="#3f5c9c" stroke="#3f5c9c" stroke-width="0.15" text-anchor="middle" textLength="8.88" lengthAdjust="spacingAndGlyphs" >16</text>
<text x="187.88" y="774.50" font-size="8.4" fill="#3f5c9c" stroke="#3f5c9c" stroke-width="0.15" text-anchor="middle" textLength="8.88" lengthAdjust="spacingAndGlyphs" >15</text>
<text x="201.11" y="774.50" font-size="8.4" fill="#3f5c9c" stroke="#3f5c9c" stroke-width="0.15" text-anchor="middle" textLength="4.44" lengthAdjust="spacingAndGlyphs" >6</text>
<text x="214.34" y="774.50" font-size="8.4" fill="#3f5c9c" stroke="#3f5c9c" stroke-width="0.15" text-anchor="middle" textLength="4.44" lengthAdjust="spacingAndGlyphs" >4</text>
<text x="227.57" y="774.50" font-size="8.4" fill="#3f5c9c" stroke="#3f5c9c" stroke-width="0.15" text-anchor="middle" textLength="4.44" lengthAdjust="spacingAndGlyphs" >2</text>
<text x="240.80" y="774.50" font-size="8.4" fill="#3f5c9c" stroke="#3f5c9c" stroke-width="0.15" text-anchor="middle" textLength="4.44" lengthAdjust="spacingAndGlyphs" >1</text>
<text x="17.50" y="786.70" font-size="8.3" fill="#bb2b52" stroke="#bb2b52" stroke-width="0.15" textLength="78.20" lengthAdjust="spacingAndGlyphs" >NT-ProBNP &gt; 8500ng/l</text>
<text x="98.30" y="786.70" font-size="8.3" fill="#2a2a2a" stroke="#2a2a2a" stroke-width="0.3" >:</text>
<text x="108.50" y="786.70" font-size="8.4" fill="#bb2b52" stroke="#bb2b52" stroke-width="0.15" text-anchor="middle" textLength="8.88" lengthAdjust="spacingAndGlyphs" >25</text>
<text x="121.73" y="786.70" font-size="8.4" fill="#bb2b52" stroke="#bb2b52" stroke-width="0.15" text-anchor="middle" textLength="8.88" lengthAdjust="spacingAndGlyphs" >17</text>
<text x="134.96" y="786.70" font-size="8.4" fill="#bb2b52" stroke="#bb2b52" stroke-width="0.15" text-anchor="middle" textLength="8.88" lengthAdjust="spacingAndGlyphs" >13</text>
<text x="148.19" y="786.70" font-size="8.4" fill="#bb2b52" stroke="#bb2b52" stroke-width="0.15" text-anchor="middle" textLength="8.88" lengthAdjust="spacingAndGlyphs" >10</text>
<text x="161.42" y="786.70" font-size="8.4" fill="#bb2b52" stroke="#bb2b52" stroke-width="0.15" text-anchor="middle" textLength="4.44" lengthAdjust="spacingAndGlyphs" >8</text>
<text x="174.65" y="786.70" font-size="8.4" fill="#bb2b52" stroke="#bb2b52" stroke-width="0.15" text-anchor="middle" textLength="4.44" lengthAdjust="spacingAndGlyphs" >6</text>
<text x="187.88" y="786.70" font-size="8.4" fill="#bb2b52" stroke="#bb2b52" stroke-width="0.15" text-anchor="middle" textLength="4.44" lengthAdjust="spacingAndGlyphs" >6</text>
<text x="201.11" y="786.70" font-size="8.4" fill="#bb2b52" stroke="#bb2b52" stroke-width="0.15" text-anchor="middle" textLength="4.44" lengthAdjust="spacingAndGlyphs" >5</text>
<text x="214.34" y="786.70" font-size="8.4" fill="#bb2b52" stroke="#bb2b52" stroke-width="0.15" text-anchor="middle" textLength="4.44" lengthAdjust="spacingAndGlyphs" >4</text>
<text x="227.57" y="786.70" font-size="8.4" fill="#bb2b52" stroke="#bb2b52" stroke-width="0.15" text-anchor="middle" textLength="4.44" lengthAdjust="spacingAndGlyphs" >2</text>
<text x="240.80" y="786.70" font-size="8.4" fill="#bb2b52" stroke="#bb2b52" stroke-width="0.15" text-anchor="middle" textLength="4.44" lengthAdjust="spacingAndGlyphs" >0</text>
<text transform="translate(423.45,615.50) scale(0.85,1)" x="0" y="0" font-size="8.4" fill="#2a2a2a" stroke="#2a2a2a" stroke-width="0.12" text-anchor="middle" textLength="46.24" lengthAdjust="spacing" >NT-ProBNP</text>
<path d="M365.40,621.30 V721.85 M364.55,721.10 H507.90" stroke="#1a1a1a" stroke-width="1.6" fill="none"/>
<path d="M361.40,624.80 H365.40 M361.40,636.44 H365.40 M361.40,648.07 H365.40 M361.40,659.71 H365.40 M361.40,671.35 H365.40 M361.40,682.99 H365.40 M361.40,694.62 H365.40 M361.40,706.26 H365.40 M361.40,717.90 H365.40 M370.40,721.10 V725.10 M383.67,721.10 V725.10 M396.94,721.10 V725.10 M410.21,721.10 V725.10 M423.48,721.10 V725.10 M436.75,721.10 V725.10 M450.02,721.10 V725.10 M463.29,721.10 V725.10 M476.56,721.10 V725.10 M489.83,721.10 V725.10 M503.10,721.10 V725.10" stroke="#1a1a1a" stroke-width="1.3" fill="none"/>
<text transform="translate(349.60,627.60) scale(0.88,1)" x="0" y="0" font-size="8.4" fill="#2a2a2a" stroke="#2a2a2a" stroke-width="0.15" text-anchor="end" >100</text>
<text transform="translate(351.40,627.60) scale(0.86,1)" x="0" y="0" font-size="8.2" fill="#2a2a2a" stroke="#2a2a2a" stroke-width="0.16" >%</text>
<text transform="translate(349.60,650.87) scale(0.88,1)" x="0" y="0" font-size="8.4" fill="#2a2a2a" stroke="#2a2a2a" stroke-width="0.15" text-anchor="end" >75</text>
<text transform="translate(351.40,650.87) scale(0.86,1)" x="0" y="0" font-size="8.2" fill="#2a2a2a" stroke="#2a2a2a" stroke-width="0.16" >%</text>
<text transform="translate(349.60,674.15) scale(0.88,1)" x="0" y="0" font-size="8.4" fill="#2a2a2a" stroke="#2a2a2a" stroke-width="0.15" text-anchor="end" >50</text>
<text transform="translate(351.40,674.15) scale(0.86,1)" x="0" y="0" font-size="8.2" fill="#2a2a2a" stroke="#2a2a2a" stroke-width="0.16" >%</text>
<text transform="translate(349.60,697.42) scale(0.88,1)" x="0" y="0" font-size="8.4" fill="#2a2a2a" stroke="#2a2a2a" stroke-width="0.15" text-anchor="end" >25</text>
<text transform="translate(351.40,697.42) scale(0.86,1)" x="0" y="0" font-size="8.2" fill="#2a2a2a" stroke="#2a2a2a" stroke-width="0.16" >%</text>
<text transform="translate(349.60,720.70) scale(0.88,1)" x="0" y="0" font-size="8.4" fill="#2a2a2a" stroke="#2a2a2a" stroke-width="0.15" text-anchor="end" >0</text>
<text transform="translate(351.40,720.70) scale(0.86,1)" x="0" y="0" font-size="8.2" fill="#2a2a2a" stroke="#2a2a2a" stroke-width="0.16" >%</text>
<text transform="translate(370.40,735.60) scale(0.87,1)" x="0" y="0" font-size="8.6" fill="#2a2a2a" stroke="#2a2a2a" stroke-width="0.15" text-anchor="middle" >0</text>
<text transform="translate(383.67,735.60) scale(0.87,1)" x="0" y="0" font-size="8.6" fill="#2a2a2a" stroke="#2a2a2a" stroke-width="0.15" text-anchor="middle" >3</text>
<text transform="translate(396.94,735.60) scale(0.87,1)" x="0" y="0" font-size="8.6" fill="#2a2a2a" stroke="#2a2a2a" stroke-width="0.15" text-anchor="middle" >6</text>
<text transform="translate(410.21,735.60) scale(0.87,1)" x="0" y="0" font-size="8.6" fill="#2a2a2a" stroke="#2a2a2a" stroke-width="0.15" text-anchor="middle" >9</text>
<text transform="translate(423.48,735.60) scale(0.87,1)" x="0" y="0" font-size="8.6" fill="#2a2a2a" stroke="#2a2a2a" stroke-width="0.15" text-anchor="middle" >12</text>
<text transform="translate(436.75,735.60) scale(0.87,1)" x="0" y="0" font-size="8.6" fill="#2a2a2a" stroke="#2a2a2a" stroke-width="0.15" text-anchor="middle" >15</text>
<text transform="translate(450.02,735.60) scale(0.87,1)" x="0" y="0" font-size="8.6" fill="#2a2a2a" stroke="#2a2a2a" stroke-width="0.15" text-anchor="middle" >18</text>
<text transform="translate(463.29,735.60) scale(0.87,1)" x="0" y="0" font-size="8.6" fill="#2a2a2a" stroke="#2a2a2a" stroke-width="0.15" text-anchor="middle" >21</text>
<text transform="translate(476.56,735.60) scale(0.87,1)" x="0" y="0" font-size="8.6" fill="#2a2a2a" stroke="#2a2a2a" stroke-width="0.15" text-anchor="middle" >24</text>
<text transform="translate(489.83,735.60) scale(0.87,1)" x="0" y="0" font-size="8.6" fill="#2a2a2a" stroke="#2a2a2a" stroke-width="0.15" text-anchor="middle" >27</text>
<text transform="translate(503.10,735.60) scale(0.87,1)" x="0" y="0" font-size="8.6" fill="#2a2a2a" stroke="#2a2a2a" stroke-width="0.15" text-anchor="middle" >30</text>
<text transform="translate(436.65,749.70) scale(0.74,1)" x="0" y="0" font-size="10.6" fill="#2a2a2a" stroke="#2a2a2a" stroke-width="0.06" text-anchor="middle" textLength="75.68" lengthAdjust="spacing" >Time in months</text>
<text x="0" y="0" font-size="10.8" fill="#2a2a2a" stroke="#2a2a2a" stroke-width="0.06" text-anchor="middle" textLength="94.19" lengthAdjust="spacing" transform="translate(330.40,670.75) rotate(-90) scale(0.74,1)">Survival probability</text>
<text transform="translate(368.10,715.10) scale(0.88,1)" x="0" y="0" font-size="8.8" fill="#2a2a2a" stroke="#2a2a2a" stroke-width="0.15" textLength="38.17" lengthAdjust="spacing" >p=0.0009</text>
<path d="M423.40,620.80 V721.10" stroke="#1a1a1a" stroke-width="1.4" stroke-dasharray="3.8 2.5" stroke-dashoffset="2.1" fill="none"/>
<path d="M370.9,624.8 H376 V627.2 H399.6 V630.1 H401.3 V632.9 H495.6" stroke="#233f80" stroke-width="1.6" fill="none" stroke-linejoin="miter" stroke-linecap="square"/>
<path d="M370.9,624.8 V628.5 H374 V631.9 H375.8 V639.8 H378.1 V643.4 H380.6 V647.4 H394.8 V651.9 H397.2 V655.6 H400.4 V659.4 H410.8 V663.4 H412.5 V668.1 H421.7 V673.8 H426 V679 H495.6" stroke="#a80c34" stroke-width="1.6" fill="none" stroke-linejoin="miter" stroke-linecap="square"/>
<text transform="translate(358.10,762.40) scale(0.88,1)" x="0" y="0" font-size="8.6" fill="#2a2a2a" stroke="#2a2a2a" stroke-width="0.15" textLength="57.61" lengthAdjust="spacing" >Number at risk</text>
<text x="280.00" y="774.60" font-size="8.3" fill="#3f5c9c" stroke="#3f5c9c" stroke-width="0.15" textLength="78.00" lengthAdjust="spacingAndGlyphs" >NT-ProBNP ≤ 8500ng/l</text>
<text x="360.60" y="774.60" font-size="8.3" fill="#2a2a2a" stroke="#2a2a2a" stroke-width="0.3" >:</text>
<text x="370.60" y="774.60" font-size="8.4" fill="#3f5c9c" stroke="#3f5c9c" stroke-width="0.15" text-anchor="middle" textLength="8.88" lengthAdjust="spacingAndGlyphs" >37</text>
<text x="383.87" y="774.60" font-size="8.4" fill="#3f5c9c" stroke="#3f5c9c" stroke-width="0.15" text-anchor="middle" textLength="8.88" lengthAdjust="spacingAndGlyphs" >35</text>
<text x="397.14" y="774.60" font-size="8.4" fill="#3f5c9c" stroke="#3f5c9c" stroke-width="0.15" text-anchor="middle" textLength="8.88" lengthAdjust="spacingAndGlyphs" >32</text>
<text x="410.41" y="774.60" font-size="8.4" fill="#3f5c9c" stroke="#3f5c9c" stroke-width="0.15" text-anchor="middle" textLength="8.88" lengthAdjust="spacingAndGlyphs" >27</text>
<text x="423.68" y="774.60" font-size="8.4" fill="#3f5c9c" stroke="#3f5c9c" stroke-width="0.15" text-anchor="middle" textLength="8.88" lengthAdjust="spacingAndGlyphs" >24</text>
<text x="436.95" y="774.60" font-size="8.4" fill="#3f5c9c" stroke="#3f5c9c" stroke-width="0.15" text-anchor="middle" textLength="8.88" lengthAdjust="spacingAndGlyphs" >19</text>
<text x="450.22" y="774.60" font-size="8.4" fill="#3f5c9c" stroke="#3f5c9c" stroke-width="0.15" text-anchor="middle" textLength="8.88" lengthAdjust="spacingAndGlyphs" >16</text>
<text x="463.49" y="774.60" font-size="8.4" fill="#3f5c9c" stroke="#3f5c9c" stroke-width="0.15" text-anchor="middle" textLength="4.44" lengthAdjust="spacingAndGlyphs" >7</text>
<text x="476.76" y="774.60" font-size="8.4" fill="#3f5c9c" stroke="#3f5c9c" stroke-width="0.15" text-anchor="middle" textLength="4.44" lengthAdjust="spacingAndGlyphs" >5</text>
<text x="490.03" y="774.60" font-size="8.4" fill="#3f5c9c" stroke="#3f5c9c" stroke-width="0.15" text-anchor="middle" textLength="4.44" lengthAdjust="spacingAndGlyphs" >4</text>
<text x="503.30" y="774.60" font-size="8.4" fill="#3f5c9c" stroke="#3f5c9c" stroke-width="0.15" text-anchor="middle" textLength="4.44" lengthAdjust="spacingAndGlyphs" >1</text>
<text x="280.00" y="786.80" font-size="8.3" fill="#bb2b52" stroke="#bb2b52" stroke-width="0.15" textLength="78.00" lengthAdjust="spacingAndGlyphs" >NT-ProBNP &gt; 8500ng/l</text>
<text x="360.60" y="786.80" font-size="8.3" fill="#2a2a2a" stroke="#2a2a2a" stroke-width="0.3" >:</text>
<text x="370.60" y="786.80" font-size="8.4" fill="#bb2b52" stroke="#bb2b52" stroke-width="0.15" text-anchor="middle" textLength="8.88" lengthAdjust="spacingAndGlyphs" >25</text>
<text x="383.87" y="786.80" font-size="8.4" fill="#bb2b52" stroke="#bb2b52" stroke-width="0.15" text-anchor="middle" textLength="8.88" lengthAdjust="spacingAndGlyphs" >19</text>
<text x="397.14" y="786.80" font-size="8.4" fill="#bb2b52" stroke="#bb2b52" stroke-width="0.15" text-anchor="middle" textLength="8.88" lengthAdjust="spacingAndGlyphs" >16</text>
<text x="410.41" y="786.80" font-size="8.4" fill="#bb2b52" stroke="#bb2b52" stroke-width="0.15" text-anchor="middle" textLength="8.88" lengthAdjust="spacingAndGlyphs" >14</text>
<text x="423.68" y="786.80" font-size="8.4" fill="#bb2b52" stroke="#bb2b52" stroke-width="0.15" text-anchor="middle" textLength="8.88" lengthAdjust="spacingAndGlyphs" >10</text>
<text x="436.95" y="786.80" font-size="8.4" fill="#bb2b52" stroke="#bb2b52" stroke-width="0.15" text-anchor="middle" textLength="4.44" lengthAdjust="spacingAndGlyphs" >7</text>
<text x="450.22" y="786.80" font-size="8.4" fill="#bb2b52" stroke="#bb2b52" stroke-width="0.15" text-anchor="middle" textLength="4.44" lengthAdjust="spacingAndGlyphs" >6</text>
<text x="463.49" y="786.80" font-size="8.4" fill="#bb2b52" stroke="#bb2b52" stroke-width="0.15" text-anchor="middle" textLength="4.44" lengthAdjust="spacingAndGlyphs" >6</text>
<text x="476.76" y="786.80" font-size="8.4" fill="#bb2b52" stroke="#bb2b52" stroke-width="0.15" text-anchor="middle" textLength="4.44" lengthAdjust="spacingAndGlyphs" >4</text>
<text x="490.03" y="786.80" font-size="8.4" fill="#bb2b52" stroke="#bb2b52" stroke-width="0.15" text-anchor="middle" textLength="4.44" lengthAdjust="spacingAndGlyphs" >2</text>
<text x="503.30" y="786.80" font-size="8.4" fill="#bb2b52" stroke="#bb2b52" stroke-width="0.15" text-anchor="middle" textLength="4.44" lengthAdjust="spacingAndGlyphs" >0</text>
<text transform="translate(171.90,17.10) scale(0.9,1)" x="0" y="0" font-size="10.6" fill="#2a2a2a" stroke="#2a2a2a" stroke-width="0.1" text-anchor="middle" textLength="42.56" lengthAdjust="spacing" >HemEFS</text>
<text transform="translate(432.80,17.10) scale(0.9,1)" x="0" y="0" font-size="10.6" fill="#2a2a2a" stroke="#2a2a2a" stroke-width="0.1" text-anchor="middle" textLength="15.44" lengthAdjust="spacing" >OS</text>
<rect x="0.6" y="0.6" width="518.6" height="795.6" fill="none" stroke="#000" stroke-width="1.6"/>
</svg>
</body></html>
